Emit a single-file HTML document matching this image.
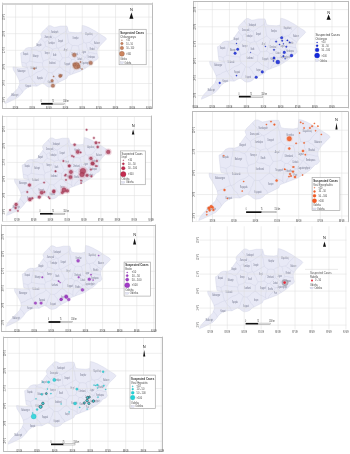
<!DOCTYPE html><html><head><meta charset="utf-8"><title>Odisha suspected cases maps</title><style>html,body{margin:0;padding:0;background:#fff;width:350px;height:454px;overflow:hidden}
svg{display:block;filter:blur(0.3px)}
text{font-family:'Liberation Sans',sans-serif}
.g{stroke:#dcdcdc;stroke-width:0.5;fill:none}
.m{fill:#e8e9f6;stroke:#c8cbe0;stroke-width:0.35}
.d{fill:none;stroke:#c9cce0;stroke-width:0.35}
.t{fill:#70748a}
.a{fill:#3a3a3a}
.n{font-size:4px;fill:#222}
.s{fill:#333}
.lt{fill:#303030;font-weight:bold}
.ltr{fill:#3a3a3a}
.lt6{fill:#555}
.ls{fill:#474747}</style></head><body>
<svg width="350" height="454" viewBox="0 0 350 454">
<g id="p1">
<path d="M41.76,37.35 L40.76,34.53 L41.92,32.37 L44.09,30.21 L46.42,27.89 L48.59,25.73 L50.75,25.73 L54.08,27.39 L56.25,27.06 L60.75,26.06 L66.91,26.06 L68.58,31.71 L71.41,32.37 L78.08,32.7 L81.74,32.04 L82.24,25.4 L84.74,25.9 L88.9,27.56 L95.57,31.21 L101.4,35.03 L105.23,37.35 L106.56,39.01 L103.9,41.83 L102.07,43.66 L100.23,45.49 L98.4,47.98 L97.23,50.3 L97.23,53.45 L97.73,55.78 L98.4,57.77 L96.57,60.09 L95.07,60.26 L93.4,62.09 L90.74,64.74 L88.07,66.57 L84.57,68.73 L81.07,70.88 L77.58,72.21 L73.91,73.54 L70.41,74.87 L67.75,75.86 L66.75,78.35 L63.41,80.01 L60.08,81.67 L56.75,83.33 L54.58,85.49 L52.25,86.65 L48.92,87.15 L46.75,86.16 L44.59,84.33 L42.42,83.33 L40.26,84.33 L36.92,86.16 L32.76,85.99 L28.26,87.15 L24.93,89.48 L23.1,91.63 L21.43,93.96 L17.93,97.44 L13.43,99.77 L8.94,101.93 L4.94,103.59 L5.44,101.93 L7.77,98.61 L11.27,95.12 L14.6,91.63 L17.93,88.31 L19.77,83.67 L19.1,80.35 L16.93,75.7 L13.43,70.05 L12.93,67.73 L13.1,66.9 L19.93,68.06 L27.6,67.73 L22.26,66.4 L21.93,65.24 L21.6,62.42 L21.26,59.93 L20.93,56.28 L20.6,52.96 L21.93,52.46 L24.1,50.63 L25.76,48.47 L28.43,47.48 L32.93,47.48 L36.09,46.32 L37.26,43.66 L39.09,41Z" class="m"/>
<path d="M97.31,53.81 L95.15,53.71 L93.04,53.11 L90.92,52.65 L88.72,52.86 M98.07,48.64 L96.35,47.37 L94.37,46.44 L93.14,44.51 L90.94,43.88 L89.5,42.24 M88.72,52.86 L88.36,50.83 L87.73,48.88 L86.65,47.07 L86.75,44.91 L85.77,43.06 M89.5,42.24 L85.77,43.06 M92.54,62.95 L90.57,61.85 L89.17,60.08 L87.18,59 L85.81,57.2 M85.81,57.2 L87.01,54.86 L88.72,52.86 M98.58,33.18 L97.1,34.72 L95.44,36.09 L93.95,37.62 L92.44,39.13 L91.36,41.07 L89.5,42.24 M18.64,86.51 L20.07,88.37 L21.63,90.14 L22.63,92.29 M85.35,68.25 L84.11,66.58 L82.25,65.46 L81.25,63.58 M85.81,57.2 L85.16,57.36 M81.25,63.58 L82.17,61.26 L84.1,59.58 L85.16,57.36 M46.56,27.75 L47.49,29.6 L49.01,31 L50.32,32.57 L51.09,34.54 L52.41,36.1 L53.92,37.52 M41.01,38.37 L42.74,40.56 L44.84,42.41 M44.84,42.41 L46.48,41.11 L48.3,40.14 L50.14,39.2 L52.21,38.7 L53.92,37.52 M72.48,45.59 L75.29,45.41 L78.06,45.89 M72.48,45.59 L70.51,44.27 L68.78,42.64 M68.78,42.64 L68.2,40.37 L67.82,38.05 L67.64,35.69 L66.88,33.46 L66.23,31.2 M83.83,42.51 L82.08,43.93 L79.81,44.47 L78.06,45.89 M83.83,42.51 L83.4,40.41 L82.57,38.41 L82.48,36.23 L82.15,34.11 L81.22,32.13 M67.33,27.48 L66.23,31.2 M85.77,43.06 L83.83,42.51 M85.16,57.36 L83.13,56.42 L81.34,55.1 L79.52,53.84 M79.52,53.84 L79.29,51.83 L79.09,49.81 L78.83,47.8 L78.06,45.89 M53.92,37.52 L55.25,37.91 M55.25,37.91 L57.17,36.94 L58.96,35.76 L60.7,34.49 L62.57,33.43 L64.36,32.27 L66.23,31.2 M71.6,59.43 L71.03,61.41 L70.65,63.41 L70.64,65.45 L70.57,67.48 L69.98,69.46 L69.94,71.5 L70.02,73.55 M71.6,59.43 L73.91,59.43 M73.91,59.43 L75.88,60.66 L77.5,62.35 L79.46,63.58 M79.46,63.58 L78.58,65.53 L77.44,67.3 L76.16,68.99 L74.38,70.34 L73.22,72.1 L72.42,74.11 M70.84,74.71 L70.02,73.55 M79.52,53.84 L77.46,55.52 L75.73,57.52 L73.91,59.43 M68.27,57.14 L70.16,57.95 L71.6,59.43 M68.27,57.14 L69.29,55.33 L69.61,53.27 L70.49,51.41 L71.25,49.5 L71.61,47.45 L72.48,45.59 M81.25,63.58 L79.46,63.58 M58.29,82.57 L57.39,80.33 L55.35,78.84 L54.56,76.53 L52.9,74.79 L51.71,72.74 M70.02,73.55 L68.37,72.34 L66.56,71.38 L64.57,70.72 L62.82,69.66 L61.53,67.87 L59.57,67.14 M51.71,72.74 L53.86,71.6 L55.7,70.02 L57.38,68.22 L59.57,67.14 M21.58,62.27 L23.87,62.63 L26.07,63.39 M19.22,80.97 L21.3,80.07 L23.46,79.37 L25.33,78.03 L27.43,77.19 L29.55,76.4 M29.55,76.4 L28.97,74.24 L28.36,72.08 L28.17,69.82 L27.24,67.75 M27.21,67.63 L26.42,65.57 L26.07,63.39 M62.49,57.81 L61.56,59.85 L59.9,61.34 M62.49,57.81 L61.37,56.05 L60.81,54.03 L59.56,52.33 L58.83,50.38 L58.14,48.42 M59.9,61.34 L57.79,60.87 L55.9,59.67 L53.85,59.04 L51.55,59.2 L49.59,58.26 M49.59,58.26 L50.71,56.11 L51.34,53.79 L51.96,51.48 L52.63,49.18 M52.63,49.18 L54.84,48.51 L57.09,47.99 M58.14,48.42 L57.09,47.99 M68.27,57.14 L65.41,57.71 L62.49,57.81 M59.57,67.14 L59.85,64.25 L59.9,61.34 M68.78,42.64 L66.94,43.48 L65.28,44.65 L63.41,45.44 L61.75,46.6 L59.99,47.59 L58.14,48.42 M45.61,46.26 L48.06,46.97 L50.42,47.9 L52.63,49.18 M44.84,42.41 L45.61,46.26 M55.25,37.91 L55.74,39.91 L56.06,41.93 L56.38,43.96 L56.24,46.06 L57.09,47.99 M48.01,72.4 L46.22,70.17 L43.78,68.68 M48.01,72.4 L47.02,74.21 L46.56,76.23 L45.41,77.99 L45.13,80.07 L43.94,81.81 L43.59,83.87 M43.78,68.68 L42,70.09 L40.08,71.26 L37.8,71.83 L35.86,72.97 L34.05,74.32 L32.24,75.68 L30.16,76.59 M36.99,86.12 L35.44,84.34 L34.65,82.03 L32.5,80.68 L31.35,78.63 L30.16,76.59 M51.71,72.74 L48.01,72.4 M29.55,76.4 L30.16,76.59 M43.34,61.13 L42.58,58.81 L41.68,56.53 L41.69,54 L40.65,51.75 M43.34,61.13 L42.49,63.02 M42.49,63.02 L40.36,62.59 L38.16,62.68 L36.02,62.27 L33.87,62 L31.76,61.43 L29.61,61.19 M29.61,61.19 L29.84,59.14 L30.04,57.08 L30.35,55.04 L31.17,53.09 L31.11,50.99 L31.65,48.99 M31.65,48.99 L33.91,49.63 L36.29,49.91 L38.31,51.35 L40.65,51.75 M49.59,58.26 L47.69,59.62 L45.43,60.2 L43.34,61.13 M45.61,46.26 L43.62,47.79 L42.32,49.94 L40.65,51.75 M43.78,68.68 L42.72,65.94 L42.49,63.02 M26.07,63.39 L27.88,62.36 L29.61,61.19 M30.6,47.48 L31.65,48.99" class="d"/>
<text x="54.75" y="32.61" class="t" text-anchor="middle" style="font-size:2.75px" textLength="7.16" lengthAdjust="spacingAndGlyphs">Sundargarh</text>
<text x="48.09" y="37.59" class="t" text-anchor="middle" style="font-size:2.75px" textLength="7.16" lengthAdjust="spacingAndGlyphs">Jharsuguda</text>
<text x="51.42" y="43.73" class="t" text-anchor="middle" style="font-size:2.75px" textLength="6.45" lengthAdjust="spacingAndGlyphs">Sambalpur</text>
<text x="60.58" y="42.07" class="t" text-anchor="middle" style="font-size:2.75px" textLength="5.01" lengthAdjust="spacingAndGlyphs">Deogarh</text>
<text x="75.58" y="38.75" class="t" text-anchor="middle" style="font-size:2.75px" textLength="5.73" lengthAdjust="spacingAndGlyphs">Keonjhar</text>
<text x="88.9" y="35.43" class="t" text-anchor="middle" style="font-size:2.75px" textLength="7.16" lengthAdjust="spacingAndGlyphs">Mayurbhanj</text>
<text x="97.23" y="43.73" class="t" text-anchor="middle" style="font-size:2.75px" textLength="5.73" lengthAdjust="spacingAndGlyphs">Balasore</text>
<text x="92.24" y="50.37" class="t" text-anchor="middle" style="font-size:2.75px" textLength="5.01" lengthAdjust="spacingAndGlyphs">Bhadrak</text>
<text x="83.91" y="52.86" class="t" text-anchor="middle" style="font-size:2.75px" textLength="4.3" lengthAdjust="spacingAndGlyphs">Jajpur</text>
<text x="91.4" y="57.84" class="t" text-anchor="middle" style="font-size:2.75px" textLength="7.16" lengthAdjust="spacingAndGlyphs">Kendrapara</text>
<text x="86.41" y="63.65" class="t" text-anchor="middle" style="font-size:2.75px" textLength="9.31" lengthAdjust="spacingAndGlyphs">Jagatsinghpur</text>
<text x="79.74" y="59.5" class="t" text-anchor="middle" style="font-size:2.75px" textLength="5.01" lengthAdjust="spacingAndGlyphs">Cuttack</text>
<text x="74.74" y="54.52" class="t" text-anchor="middle" style="font-size:2.75px" textLength="6.45" lengthAdjust="spacingAndGlyphs">Dhenkanal</text>
<text x="65.58" y="51.2" class="t" text-anchor="middle" style="font-size:2.75px" textLength="3.58" lengthAdjust="spacingAndGlyphs">Angul</text>
<text x="74.74" y="66.14" class="t" text-anchor="middle" style="font-size:2.75px" textLength="5.01" lengthAdjust="spacingAndGlyphs">Khordha</text>
<text x="79.74" y="69.46" class="t" text-anchor="middle" style="font-size:2.75px" textLength="2.87" lengthAdjust="spacingAndGlyphs">Puri</text>
<text x="67.25" y="65.31" class="t" text-anchor="middle" style="font-size:2.75px" textLength="5.73" lengthAdjust="spacingAndGlyphs">Nayagarh</text>
<text x="60.58" y="76.1" class="t" text-anchor="middle" style="font-size:2.75px" textLength="4.3" lengthAdjust="spacingAndGlyphs">Ganjam</text>
<text x="50.59" y="82.74" class="t" text-anchor="middle" style="font-size:2.75px" textLength="5.73" lengthAdjust="spacingAndGlyphs">Gajapati</text>
<text x="52.25" y="64.48" class="t" text-anchor="middle" style="font-size:2.75px" textLength="6.45" lengthAdjust="spacingAndGlyphs">Kandhamal</text>
<text x="54.75" y="56.18" class="t" text-anchor="middle" style="font-size:2.75px" textLength="3.58" lengthAdjust="spacingAndGlyphs">Boudh</text>
<text x="47.25" y="53.69" class="t" text-anchor="middle" style="font-size:2.75px" textLength="5.01" lengthAdjust="spacingAndGlyphs">Sonepur</text>
<text x="38.92" y="46.22" class="t" text-anchor="middle" style="font-size:2.75px" textLength="5.01" lengthAdjust="spacingAndGlyphs">Bargarh</text>
<text x="35.59" y="57.01" class="t" text-anchor="middle" style="font-size:2.75px" textLength="5.73" lengthAdjust="spacingAndGlyphs">Bolangir</text>
<text x="25.6" y="55.35" class="t" text-anchor="middle" style="font-size:2.75px" textLength="5.01" lengthAdjust="spacingAndGlyphs">Nuapada</text>
<text x="33.93" y="68.63" class="t" text-anchor="middle" style="font-size:2.75px" textLength="6.45" lengthAdjust="spacingAndGlyphs">Kalahandi</text>
<text x="39.76" y="78.59" class="t" text-anchor="middle" style="font-size:2.75px" textLength="5.73" lengthAdjust="spacingAndGlyphs">Rayagada</text>
<text x="21.43" y="71.95" class="t" text-anchor="middle" style="font-size:2.75px" textLength="7.88" lengthAdjust="spacingAndGlyphs">Nabarangpur</text>
<text x="28.09" y="86.89" class="t" text-anchor="middle" style="font-size:2.75px" textLength="5.01" lengthAdjust="spacingAndGlyphs">Koraput</text>
<text x="14.77" y="96.02" class="t" text-anchor="middle" style="font-size:2.75px" textLength="7.16" lengthAdjust="spacingAndGlyphs">Malkangiri</text>
<line x1="15.6" y1="3.2" x2="15.6" y2="108.3" class="g"/>
<line x1="32.26" y1="3.2" x2="32.26" y2="108.3" class="g"/>
<line x1="48.92" y1="3.2" x2="48.92" y2="108.3" class="g"/>
<line x1="65.58" y1="3.2" x2="65.58" y2="108.3" class="g"/>
<line x1="82.24" y1="3.2" x2="82.24" y2="108.3" class="g"/>
<line x1="98.9" y1="3.2" x2="98.9" y2="108.3" class="g"/>
<line x1="115.56" y1="3.2" x2="115.56" y2="108.3" class="g"/>
<line x1="132.22" y1="3.2" x2="132.22" y2="108.3" class="g"/>
<line x1="148.88" y1="3.2" x2="148.88" y2="108.3" class="g"/>
<line x1="6.2" y1="100.1" x2="152.5" y2="100.1" class="g"/>
<line x1="6.2" y1="83.5" x2="152.5" y2="83.5" class="g"/>
<line x1="6.2" y1="66.9" x2="152.5" y2="66.9" class="g"/>
<line x1="6.2" y1="50.3" x2="152.5" y2="50.3" class="g"/>
<line x1="6.2" y1="33.7" x2="152.5" y2="33.7" class="g"/>
<line x1="6.2" y1="17.1" x2="152.5" y2="17.1" class="g"/>
<circle cx="74.3" cy="55" r="2.78" fill="#d9b9b0" opacity="0.55"/>
<circle cx="76.4" cy="65.7" r="4.54" fill="#d9b9b0" opacity="0.55"/>
<circle cx="74.6" cy="64.5" r="2.51" fill="#d9b9b0" opacity="0.55"/>
<circle cx="78.5" cy="66.5" r="2.38" fill="#d9b9b0" opacity="0.55"/>
<circle cx="90.7" cy="62.9" r="2.65" fill="#d9b9b0" opacity="0.55"/>
<circle cx="60.7" cy="75.7" r="2.1" fill="#d9b9b0" opacity="0.55"/>
<circle cx="34.3" cy="68.6" r="1.43" fill="#d9b9b0" opacity="0.55"/>
<circle cx="60" cy="76.1" r="2.1" fill="#d9b9b0" opacity="0.55"/>
<circle cx="52.1" cy="80.7" r="1.97" fill="#d9b9b0" opacity="0.55"/>
<circle cx="52.9" cy="85.7" r="2.51" fill="#d9b9b0" opacity="0.55"/>
<circle cx="53.6" cy="76.4" r="1.02" fill="#d9b9b0" opacity="0.55"/>
<circle cx="80.5" cy="62" r="1.16" fill="#d9b9b0" opacity="0.55"/>
<circle cx="82" cy="69" r="1.02" fill="#d9b9b0" opacity="0.55"/>
<circle cx="76.4" cy="65.7" r="3.1" fill="#b87658" fill-opacity="0.85" stroke="#80503c" stroke-width="0.3"/>
<circle cx="74.3" cy="55" r="1.8" fill="#b87658" fill-opacity="0.85" stroke="#80503c" stroke-width="0.3"/>
<circle cx="90.7" cy="62.9" r="1.7" fill="#b87658" fill-opacity="0.85" stroke="#80503c" stroke-width="0.3"/>
<circle cx="74.6" cy="64.5" r="1.6" fill="#b87658" fill-opacity="0.85" stroke="#80503c" stroke-width="0.3"/>
<circle cx="52.9" cy="85.7" r="1.6" fill="#b87658" fill-opacity="0.85" stroke="#80503c" stroke-width="0.3"/>
<circle cx="78.5" cy="66.5" r="1.5" fill="#b87658" fill-opacity="0.85" stroke="#80503c" stroke-width="0.3"/>
<circle cx="60.7" cy="75.7" r="1.3" fill="#b87658" fill-opacity="0.85" stroke="#80503c" stroke-width="0.3"/>
<circle cx="60" cy="76.1" r="1.3" fill="#b87658" fill-opacity="0.85" stroke="#80503c" stroke-width="0.3"/>
<circle cx="52.1" cy="80.7" r="1.2" fill="#b87658" fill-opacity="0.85" stroke="#80503c" stroke-width="0.3"/>
<circle cx="34.3" cy="68.6" r="0.8" fill="#b87658" fill-opacity="0.85" stroke="#80503c" stroke-width="0.3"/>
<circle cx="80.5" cy="62" r="0.6" fill="#b87658" fill-opacity="0.85" stroke="#80503c" stroke-width="0.3"/>
<circle cx="53.6" cy="76.4" r="0.5" fill="#b87658" fill-opacity="0.85" stroke="#80503c" stroke-width="0.3"/>
<circle cx="82" cy="69" r="0.5" fill="#b87658" fill-opacity="0.85" stroke="#80503c" stroke-width="0.3"/>
<line x1="6.2" y1="3.2" x2="6.2" y2="108.3" stroke="#ececec" stroke-width="0.6"/>
<line x1="2" y1="108.5" x2="152.5" y2="108.5" stroke="#bababa" stroke-width="1"/>
<line x1="2.5" y1="2.7" x2="2.5" y2="108.8" stroke="#bababa" stroke-width="1"/>
<line x1="152.5" y1="2.7" x2="152.5" y2="108.8" stroke="#bababa" stroke-width="1"/>
<rect x="2" y="3.1" width="150.5" height="1.8" fill="#d0d0d0"/>
<text x="15.6" y="108.6" class="a" text-anchor="middle" style="font-size:2.75px" textLength="5.6" lengthAdjust="spacingAndGlyphs">82°0'E</text>
<text x="32.26" y="108.6" class="a" text-anchor="middle" style="font-size:2.75px" textLength="5.6" lengthAdjust="spacingAndGlyphs">83°0'E</text>
<text x="48.92" y="108.6" class="a" text-anchor="middle" style="font-size:2.75px" textLength="5.6" lengthAdjust="spacingAndGlyphs">84°0'E</text>
<text x="65.58" y="108.6" class="a" text-anchor="middle" style="font-size:2.75px" textLength="5.6" lengthAdjust="spacingAndGlyphs">85°0'E</text>
<text x="82.24" y="108.6" class="a" text-anchor="middle" style="font-size:2.75px" textLength="5.6" lengthAdjust="spacingAndGlyphs">86°0'E</text>
<text x="98.9" y="108.6" class="a" text-anchor="middle" style="font-size:2.75px" textLength="5.6" lengthAdjust="spacingAndGlyphs">87°0'E</text>
<text x="115.56" y="108.6" class="a" text-anchor="middle" style="font-size:2.75px" textLength="5.6" lengthAdjust="spacingAndGlyphs">88°0'E</text>
<text x="132.22" y="108.6" class="a" text-anchor="middle" style="font-size:2.75px" textLength="5.6" lengthAdjust="spacingAndGlyphs">89°0'E</text>
<text x="148.88" y="108.6" class="a" text-anchor="middle" style="font-size:2.75px" textLength="5.6" lengthAdjust="spacingAndGlyphs">90°0'E</text>
<text x="3.8" y="100.1" class="a" text-anchor="middle" style="font-size:2.75px" textLength="5.4" lengthAdjust="spacingAndGlyphs" dy="0.95" transform="rotate(-90 3.8 100.1)">18°0'N</text>
<text x="3.8" y="83.5" class="a" text-anchor="middle" style="font-size:2.75px" textLength="5.4" lengthAdjust="spacingAndGlyphs" dy="0.95" transform="rotate(-90 3.8 83.5)">19°0'N</text>
<text x="3.8" y="66.9" class="a" text-anchor="middle" style="font-size:2.75px" textLength="5.4" lengthAdjust="spacingAndGlyphs" dy="0.95" transform="rotate(-90 3.8 66.9)">20°0'N</text>
<text x="3.8" y="50.3" class="a" text-anchor="middle" style="font-size:2.75px" textLength="5.4" lengthAdjust="spacingAndGlyphs" dy="0.95" transform="rotate(-90 3.8 50.3)">21°0'N</text>
<text x="3.8" y="33.7" class="a" text-anchor="middle" style="font-size:2.75px" textLength="5.4" lengthAdjust="spacingAndGlyphs" dy="0.95" transform="rotate(-90 3.8 33.7)">22°0'N</text>
<text x="3.8" y="17.1" class="a" text-anchor="middle" style="font-size:2.75px" textLength="5.4" lengthAdjust="spacingAndGlyphs" dy="0.95" transform="rotate(-90 3.8 17.1)">23°0'N</text>
<text x="131.4" y="10.7" class="n" text-anchor="middle">N</text>
<path d="M131.4,12.4 L129.4,18.8 L133.4,18.8Z" fill="#111"/>
<rect x="41.1" y="102.9" width="11.8" height="1.8" fill="#111"/>
<rect x="52.9" y="103.1" width="11.8" height="1.4" fill="#fff" stroke="#777" stroke-width="0.4"/>
<text x="41.1" y="102.2" class="s" text-anchor="middle" style="font-size:2.75px" textLength="0.9" lengthAdjust="spacingAndGlyphs">0</text>
<text x="52.9" y="102.2" class="s" text-anchor="middle" style="font-size:2.75px" textLength="1.9" lengthAdjust="spacingAndGlyphs">75</text>
<text x="63.2" y="102.2" class="s" style="font-size:2.75px" textLength="5.6" lengthAdjust="spacingAndGlyphs">150 km</text>
<rect x="119.1" y="29.3" width="27.1" height="35.4" fill="#fff" stroke="#a8a8a8" stroke-width="0.7"/>
<text x="120.2" y="33.9" class="lt" style="font-size:3px" textLength="24" lengthAdjust="spacingAndGlyphs">Suspected Cases</text>
<text x="120.2" y="37.75" class="ls" style="font-size:2.75px" textLength="15.8" lengthAdjust="spacingAndGlyphs">Chikungunya</text>
<circle cx="121.9" cy="40.2" r="0.45" fill="#cc845e" stroke="#80503c" stroke-width="0.3"/>
<text x="126.2" y="41.1" class="ls" style="font-size:2.75px" textLength="3.65" lengthAdjust="spacingAndGlyphs">&lt;10</text>
<circle cx="121.9" cy="43.6" r="1.25" fill="#cc845e" stroke="#80503c" stroke-width="0.3"/>
<text x="126.2" y="44.5" class="ls" style="font-size:2.75px" textLength="6.69" lengthAdjust="spacingAndGlyphs">10 - 50</text>
<circle cx="121.9" cy="48" r="1.75" fill="#cc845e" stroke="#80503c" stroke-width="0.3"/>
<text x="126.2" y="48.9" class="ls" style="font-size:2.75px" textLength="7.89" lengthAdjust="spacingAndGlyphs">50 - 100</text>
<circle cx="121.9" cy="53.8" r="2.5" fill="#cc845e" stroke="#80503c" stroke-width="0.3"/>
<text x="126.2" y="54.7" class="ls" style="font-size:2.75px" textLength="4.84" lengthAdjust="spacingAndGlyphs">&gt;100</text>
<text x="120.2" y="60.45" class="ls" style="font-size:2.75px" textLength="6.81" lengthAdjust="spacingAndGlyphs">Odisha</text>
<rect x="120.3" y="61.8" width="3.2" height="1.8" fill="#e1e3f4" stroke="#aab" stroke-width="0.2"/>
<text x="124.5" y="63.6" class="ls" style="font-size:2.75px" textLength="6.81" lengthAdjust="spacingAndGlyphs">Odisha</text>
</g>
<g id="p2">
<path d="M239.15,30.58 L238.12,27.66 L239.32,25.42 L241.54,23.19 L243.93,20.78 L246.16,18.54 L248.38,18.54 L251.8,20.26 L254.02,19.92 L258.64,18.89 L264.97,18.89 L266.68,24.74 L269.58,25.42 L276.43,25.77 L280.19,25.08 L280.7,18.2 L283.27,18.72 L287.54,20.44 L294.38,24.22 L300.37,28.18 L304.3,30.58 L305.67,32.3 L302.93,35.23 L301.05,37.12 L299.17,39.01 L297.29,41.59 L296.09,44 L296.09,47.27 L296.6,49.68 L297.29,51.74 L295.41,54.15 L293.87,54.32 L292.16,56.21 L289.42,58.96 L286.68,60.86 L283.09,63.09 L279.5,65.33 L275.91,66.7 L272.15,68.08 L268.56,69.46 L265.82,70.49 L264.8,73.07 L261.38,74.79 L257.96,76.51 L254.54,78.23 L252.31,80.46 L249.92,81.67 L246.5,82.18 L244.28,81.15 L242.05,79.26 L239.83,78.23 L237.61,79.26 L234.19,81.15 L229.91,80.98 L225.3,82.18 L221.88,84.59 L220,86.83 L218.28,89.24 L214.69,92.85 L210.08,95.26 L205.46,97.49 L201.36,99.21 L201.87,97.49 L204.26,94.05 L207.85,90.44 L211.27,86.83 L214.69,83.39 L216.58,78.57 L215.89,75.13 L213.67,70.32 L210.08,64.47 L209.56,62.06 L209.73,61.2 L216.75,62.4 L224.61,62.06 L219.14,60.68 L218.8,59.48 L218.46,56.56 L218.11,53.98 L217.77,50.19 L217.43,46.75 L218.8,46.24 L221.02,44.34 L222.73,42.11 L225.47,41.08 L230.08,41.08 L233.33,39.87 L234.53,37.12 L236.41,34.37Z" class="m"/>
<path d="M296.17,47.64 L293.95,47.53 L291.78,46.91 L289.61,46.43 L287.35,46.65 M296.95,42.28 L295.18,40.96 L293.15,40 L291.89,38.01 L289.63,37.34 L288.15,35.65 M287.35,46.65 L286.98,44.55 L286.34,42.53 L285.22,40.66 L285.33,38.41 L284.32,36.5 M288.15,35.65 L284.32,36.5 M291.27,57.11 L289.25,55.96 L287.81,54.14 L285.77,53.01 L284.37,51.15 M284.37,51.15 L285.6,48.73 L287.35,46.65 M297.48,26.27 L295.95,27.86 L294.25,29.28 L292.72,30.86 L291.17,32.43 L290.06,34.44 L288.15,35.65 M215.42,81.52 L216.89,83.44 L218.49,85.28 L219.51,87.51 M283.89,62.6 L282.62,60.87 L280.71,59.7 L279.68,57.76 M284.37,51.15 L283.69,51.31 M279.68,57.76 L280.62,55.36 L282.61,53.62 L283.69,51.31 M244.08,20.63 L245.03,22.55 L246.6,24.01 L247.94,25.63 L248.73,27.67 L250.08,29.29 L251.63,30.75 M238.38,31.64 L240.16,33.91 L242.31,35.82 M242.31,35.82 L243.99,34.48 L245.86,33.47 L247.75,32.5 L249.88,31.98 L251.63,30.75 M270.69,39.12 L273.57,38.94 L276.41,39.43 M270.69,39.12 L268.66,37.75 L266.88,36.06 M266.88,36.06 L266.29,33.71 L265.9,31.31 L265.72,28.86 L264.94,26.55 L264.26,24.21 M282.33,35.93 L280.54,37.4 L278.21,37.96 L276.41,39.43 M282.33,35.93 L281.89,33.75 L281.04,31.68 L280.94,29.42 L280.61,27.22 L279.66,25.18 M265.4,20.36 L264.26,24.21 M284.32,36.5 L282.33,35.93 M283.69,51.31 L281.61,50.34 L279.78,48.98 L277.9,47.67 M277.9,47.67 L277.67,45.59 L277.46,43.49 L277.2,41.41 L276.41,39.43 M251.63,30.75 L253,31.17 M253,31.17 L254.97,30.16 L256.81,28.93 L258.59,27.62 L260.51,26.52 L262.35,25.31 L264.26,24.21 M269.77,53.46 L269.2,55.51 L268.8,57.58 L268.79,59.7 L268.72,61.81 L268.11,63.85 L268.08,65.97 L268.16,68.09 M269.77,53.46 L272.15,53.46 M272.15,53.46 L274.17,54.73 L275.84,56.48 L277.85,57.76 M277.85,57.76 L276.95,59.78 L275.77,61.62 L274.46,63.36 L272.63,64.76 L271.44,66.59 L270.62,68.67 M269,69.29 L268.16,68.09 M277.9,47.67 L275.79,49.41 L274.02,51.48 L272.15,53.46 M266.36,51.08 L268.3,51.93 L269.77,53.46 M266.36,51.08 L267.41,49.21 L267.73,47.07 L268.64,45.15 L269.42,43.17 L269.79,41.05 L270.69,39.12 M279.68,57.76 L277.85,57.76 M256.12,77.43 L255.19,75.11 L253.1,73.57 L252.29,71.17 L250.59,69.37 L249.37,67.25 M268.16,68.09 L266.46,66.84 L264.61,65.84 L262.56,65.15 L260.77,64.06 L259.44,62.2 L257.43,61.45 M249.37,67.25 L251.58,66.07 L253.46,64.44 L255.18,62.57 L257.43,61.45 M218.44,56.4 L220.79,56.78 L223.05,57.56 M216.02,75.78 L218.15,74.85 L220.37,74.12 L222.29,72.73 L224.45,71.86 L226.62,71.04 M226.62,71.04 L226.03,68.8 L225.4,66.57 L225.2,64.22 L224.25,62.08 M224.22,61.96 L223.4,59.82 L223.05,57.56 M260.43,51.79 L259.47,53.89 L257.77,55.44 M260.43,51.79 L259.28,49.96 L258.7,47.87 L257.42,46.1 L256.67,44.08 L255.96,42.05 M257.77,55.44 L255.61,54.95 L253.67,53.71 L251.56,53.05 L249.2,53.22 L247.19,52.25 M247.19,52.25 L248.33,50.02 L248.98,47.62 L249.62,45.22 L250.31,42.84 M250.31,42.84 L252.58,42.15 L254.89,41.61 M255.96,42.05 L254.89,41.61 M266.36,51.08 L263.43,51.68 L260.43,51.79 M257.43,61.45 L257.72,58.45 L257.77,55.44 M266.88,36.06 L264.99,36.94 L263.29,38.14 L261.37,38.96 L259.66,40.17 L257.86,41.19 L255.96,42.05 M243.1,39.82 L245.62,40.55 L248.04,41.51 L250.31,42.84 M242.31,35.82 L243.1,39.82 M253,31.17 L253.5,33.23 L253.83,35.33 L254.15,37.43 L254.01,39.61 L254.89,41.61 M245.57,66.9 L243.73,64.59 L241.22,63.04 M245.57,66.9 L244.55,68.78 L244.07,70.87 L242.9,72.69 L242.61,74.85 L241.39,76.65 L241.03,78.78 M241.22,63.04 L239.4,64.51 L237.42,65.72 L235.09,66.31 L233.1,67.49 L231.24,68.89 L229.38,70.3 L227.25,71.24 M234.26,81.11 L232.67,79.27 L231.86,76.87 L229.65,75.48 L228.46,73.35 L227.25,71.24 M249.37,67.25 L245.57,66.9 M226.62,71.04 L227.25,71.24 M240.77,55.23 L240,52.82 L239.07,50.46 L239.08,47.83 L238.01,45.51 M240.77,55.23 L239.9,57.18 M239.9,57.18 L237.71,56.73 L235.45,56.82 L233.26,56.4 L231.05,56.13 L228.89,55.53 L226.68,55.28 M226.68,55.28 L226.91,53.16 L227.12,51.03 L227.44,48.92 L228.29,46.89 L228.22,44.72 L228.77,42.65 M228.77,42.65 L231.1,43.3 L233.54,43.59 L235.61,45.09 L238.01,45.51 M247.19,52.25 L245.24,53.66 L242.92,54.26 L240.77,55.23 M243.1,39.82 L241.06,41.4 L239.72,43.62 L238.01,45.51 M241.22,63.04 L240.14,60.21 L239.9,57.18 M223.05,57.56 L224.91,56.5 L226.68,55.28 M227.7,41.08 L228.77,42.65" class="d"/>
<text x="252.48" y="25.64" class="t" text-anchor="middle" style="font-size:2.75px" textLength="7.35" lengthAdjust="spacingAndGlyphs">Sundargarh</text>
<text x="245.65" y="30.8" class="t" text-anchor="middle" style="font-size:2.75px" textLength="7.35" lengthAdjust="spacingAndGlyphs">Jharsuguda</text>
<text x="249.07" y="37.16" class="t" text-anchor="middle" style="font-size:2.75px" textLength="6.62" lengthAdjust="spacingAndGlyphs">Sambalpur</text>
<text x="258.47" y="35.44" class="t" text-anchor="middle" style="font-size:2.75px" textLength="5.15" lengthAdjust="spacingAndGlyphs">Deogarh</text>
<text x="273.86" y="32" class="t" text-anchor="middle" style="font-size:2.75px" textLength="5.88" lengthAdjust="spacingAndGlyphs">Keonjhar</text>
<text x="287.54" y="28.56" class="t" text-anchor="middle" style="font-size:2.75px" textLength="7.35" lengthAdjust="spacingAndGlyphs">Mayurbhanj</text>
<text x="296.09" y="37.16" class="t" text-anchor="middle" style="font-size:2.75px" textLength="5.88" lengthAdjust="spacingAndGlyphs">Balasore</text>
<text x="290.96" y="44.04" class="t" text-anchor="middle" style="font-size:2.75px" textLength="5.15" lengthAdjust="spacingAndGlyphs">Bhadrak</text>
<text x="282.41" y="46.62" class="t" text-anchor="middle" style="font-size:2.75px" textLength="4.41" lengthAdjust="spacingAndGlyphs">Jajpur</text>
<text x="290.1" y="51.78" class="t" text-anchor="middle" style="font-size:2.75px" textLength="7.35" lengthAdjust="spacingAndGlyphs">Kendrapara</text>
<text x="284.98" y="57.8" class="t" text-anchor="middle" style="font-size:2.75px" textLength="9.56" lengthAdjust="spacingAndGlyphs">Jagatsinghpur</text>
<text x="278.13" y="53.5" class="t" text-anchor="middle" style="font-size:2.75px" textLength="5.15" lengthAdjust="spacingAndGlyphs">Cuttack</text>
<text x="273" y="48.34" class="t" text-anchor="middle" style="font-size:2.75px" textLength="6.62" lengthAdjust="spacingAndGlyphs">Dhenkanal</text>
<text x="263.6" y="44.9" class="t" text-anchor="middle" style="font-size:2.75px" textLength="3.68" lengthAdjust="spacingAndGlyphs">Angul</text>
<text x="273" y="60.38" class="t" text-anchor="middle" style="font-size:2.75px" textLength="5.15" lengthAdjust="spacingAndGlyphs">Khordha</text>
<text x="278.13" y="63.82" class="t" text-anchor="middle" style="font-size:2.75px" textLength="2.94" lengthAdjust="spacingAndGlyphs">Puri</text>
<text x="265.31" y="59.52" class="t" text-anchor="middle" style="font-size:2.75px" textLength="5.88" lengthAdjust="spacingAndGlyphs">Nayagarh</text>
<text x="258.47" y="70.7" class="t" text-anchor="middle" style="font-size:2.75px" textLength="4.41" lengthAdjust="spacingAndGlyphs">Ganjam</text>
<text x="248.21" y="77.58" class="t" text-anchor="middle" style="font-size:2.75px" textLength="5.88" lengthAdjust="spacingAndGlyphs">Gajapati</text>
<text x="249.92" y="58.66" class="t" text-anchor="middle" style="font-size:2.75px" textLength="6.62" lengthAdjust="spacingAndGlyphs">Kandhamal</text>
<text x="252.48" y="50.06" class="t" text-anchor="middle" style="font-size:2.75px" textLength="3.68" lengthAdjust="spacingAndGlyphs">Boudh</text>
<text x="244.79" y="47.48" class="t" text-anchor="middle" style="font-size:2.75px" textLength="5.15" lengthAdjust="spacingAndGlyphs">Sonepur</text>
<text x="236.24" y="39.74" class="t" text-anchor="middle" style="font-size:2.75px" textLength="5.15" lengthAdjust="spacingAndGlyphs">Bargarh</text>
<text x="232.82" y="50.92" class="t" text-anchor="middle" style="font-size:2.75px" textLength="5.88" lengthAdjust="spacingAndGlyphs">Bolangir</text>
<text x="222.56" y="49.2" class="t" text-anchor="middle" style="font-size:2.75px" textLength="5.15" lengthAdjust="spacingAndGlyphs">Nuapada</text>
<text x="231.11" y="62.96" class="t" text-anchor="middle" style="font-size:2.75px" textLength="6.62" lengthAdjust="spacingAndGlyphs">Kalahandi</text>
<text x="237.1" y="73.28" class="t" text-anchor="middle" style="font-size:2.75px" textLength="5.88" lengthAdjust="spacingAndGlyphs">Rayagada</text>
<text x="218.28" y="66.4" class="t" text-anchor="middle" style="font-size:2.75px" textLength="8.09" lengthAdjust="spacingAndGlyphs">Nabarangpur</text>
<text x="225.12" y="81.88" class="t" text-anchor="middle" style="font-size:2.75px" textLength="5.15" lengthAdjust="spacingAndGlyphs">Koraput</text>
<text x="211.45" y="91.34" class="t" text-anchor="middle" style="font-size:2.75px" textLength="7.35" lengthAdjust="spacingAndGlyphs">Malkangiri</text>
<line x1="195.2" y1="1.4" x2="195.2" y2="107.9" class="g"/>
<line x1="212.3" y1="1.4" x2="212.3" y2="107.9" class="g"/>
<line x1="229.4" y1="1.4" x2="229.4" y2="107.9" class="g"/>
<line x1="246.5" y1="1.4" x2="246.5" y2="107.9" class="g"/>
<line x1="263.6" y1="1.4" x2="263.6" y2="107.9" class="g"/>
<line x1="280.7" y1="1.4" x2="280.7" y2="107.9" class="g"/>
<line x1="297.8" y1="1.4" x2="297.8" y2="107.9" class="g"/>
<line x1="314.9" y1="1.4" x2="314.9" y2="107.9" class="g"/>
<line x1="332" y1="1.4" x2="332" y2="107.9" class="g"/>
<line x1="197.6" y1="95.6" x2="348.1" y2="95.6" class="g"/>
<line x1="197.6" y1="78.4" x2="348.1" y2="78.4" class="g"/>
<line x1="197.6" y1="61.2" x2="348.1" y2="61.2" class="g"/>
<line x1="197.6" y1="44" x2="348.1" y2="44" class="g"/>
<line x1="197.6" y1="26.8" x2="348.1" y2="26.8" class="g"/>
<line x1="197.6" y1="9.6" x2="348.1" y2="9.6" class="g"/>
<circle cx="277.8" cy="62.1" r="2" fill="#1428dc" fill-opacity="0.85" stroke="#0a18a8" stroke-width="0.3"/>
<circle cx="291.5" cy="55.5" r="1.5" fill="#1428dc" fill-opacity="0.85" stroke="#0a18a8" stroke-width="0.3"/>
<circle cx="281.7" cy="37.8" r="1.3" fill="#1428dc" fill-opacity="0.85" stroke="#0a18a8" stroke-width="0.3"/>
<circle cx="284.3" cy="52.4" r="1.3" fill="#1428dc" fill-opacity="0.85" stroke="#0a18a8" stroke-width="0.3"/>
<circle cx="262.3" cy="71.9" r="1.3" fill="#1428dc" fill-opacity="0.85" stroke="#0a18a8" stroke-width="0.3"/>
<circle cx="235.1" cy="53.3" r="1.3" fill="#1428dc" fill-opacity="0.85" stroke="#0a18a8" stroke-width="0.3"/>
<circle cx="256.2" cy="77.3" r="1.3" fill="#1428dc" fill-opacity="0.85" stroke="#0a18a8" stroke-width="0.3"/>
<circle cx="274" cy="57.9" r="1.2" fill="#1428dc" fill-opacity="0.85" stroke="#0a18a8" stroke-width="0.3"/>
<circle cx="237.7" cy="49.3" r="1.2" fill="#1428dc" fill-opacity="0.85" stroke="#0a18a8" stroke-width="0.3"/>
<circle cx="219.7" cy="82.9" r="0.9" fill="#1428dc" fill-opacity="0.85" stroke="#0a18a8" stroke-width="0.3"/>
<circle cx="282.2" cy="40.7" r="0.8" fill="#1428dc" fill-opacity="0.85" stroke="#0a18a8" stroke-width="0.3"/>
<circle cx="276.1" cy="41.6" r="0.8" fill="#1428dc" fill-opacity="0.85" stroke="#0a18a8" stroke-width="0.3"/>
<circle cx="286.3" cy="46.7" r="0.8" fill="#1428dc" fill-opacity="0.85" stroke="#0a18a8" stroke-width="0.3"/>
<circle cx="274" cy="49.8" r="0.8" fill="#1428dc" fill-opacity="0.85" stroke="#0a18a8" stroke-width="0.3"/>
<circle cx="283.4" cy="56.1" r="0.8" fill="#1428dc" fill-opacity="0.85" stroke="#0a18a8" stroke-width="0.3"/>
<circle cx="287.4" cy="40.4" r="0.7" fill="#1428dc" fill-opacity="0.85" stroke="#0a18a8" stroke-width="0.3"/>
<circle cx="273.5" cy="60.9" r="0.7" fill="#1428dc" fill-opacity="0.85" stroke="#0a18a8" stroke-width="0.3"/>
<circle cx="289.8" cy="42.4" r="0.6" fill="#1428dc" fill-opacity="0.85" stroke="#0a18a8" stroke-width="0.3"/>
<circle cx="279.5" cy="44.5" r="0.6" fill="#1428dc" fill-opacity="0.85" stroke="#0a18a8" stroke-width="0.3"/>
<circle cx="236.5" cy="75.6" r="0.6" fill="#1428dc" fill-opacity="0.85" stroke="#0a18a8" stroke-width="0.3"/>
<circle cx="283.4" cy="43.8" r="0.5" fill="#1428dc" fill-opacity="0.85" stroke="#0a18a8" stroke-width="0.3"/>
<circle cx="265.4" cy="46.4" r="0.5" fill="#1428dc" fill-opacity="0.85" stroke="#0a18a8" stroke-width="0.3"/>
<circle cx="285.1" cy="58.7" r="0.5" fill="#1428dc" fill-opacity="0.85" stroke="#0a18a8" stroke-width="0.3"/>
<circle cx="236.5" cy="43.5" r="0.5" fill="#1428dc" fill-opacity="0.85" stroke="#0a18a8" stroke-width="0.3"/>
<circle cx="250.6" cy="52.4" r="0.4" fill="#1428dc" fill-opacity="0.85" stroke="#0a18a8" stroke-width="0.3"/>
<line x1="197.6" y1="1.4" x2="197.6" y2="107.9" stroke="#ececec" stroke-width="0.6"/>
<line x1="193.4" y1="1.5" x2="348.1" y2="1.5" stroke="#bababa" stroke-width="1"/>
<line x1="193.4" y1="107.5" x2="348.1" y2="107.5" stroke="#bababa" stroke-width="1"/>
<line x1="193.5" y1="0.9" x2="193.5" y2="108.4" stroke="#bababa" stroke-width="1"/>
<line x1="348.5" y1="0.9" x2="348.5" y2="108.4" stroke="#bababa" stroke-width="1"/>
<text x="195.2" y="108.2" class="a" text-anchor="middle" style="font-size:2.75px" textLength="5.6" lengthAdjust="spacingAndGlyphs">81°0'E</text>
<text x="212.3" y="108.2" class="a" text-anchor="middle" style="font-size:2.75px" textLength="5.6" lengthAdjust="spacingAndGlyphs">82°0'E</text>
<text x="229.4" y="108.2" class="a" text-anchor="middle" style="font-size:2.75px" textLength="5.6" lengthAdjust="spacingAndGlyphs">83°0'E</text>
<text x="246.5" y="108.2" class="a" text-anchor="middle" style="font-size:2.75px" textLength="5.6" lengthAdjust="spacingAndGlyphs">84°0'E</text>
<text x="263.6" y="108.2" class="a" text-anchor="middle" style="font-size:2.75px" textLength="5.6" lengthAdjust="spacingAndGlyphs">85°0'E</text>
<text x="280.7" y="108.2" class="a" text-anchor="middle" style="font-size:2.75px" textLength="5.6" lengthAdjust="spacingAndGlyphs">86°0'E</text>
<text x="297.8" y="108.2" class="a" text-anchor="middle" style="font-size:2.75px" textLength="5.6" lengthAdjust="spacingAndGlyphs">87°0'E</text>
<text x="314.9" y="108.2" class="a" text-anchor="middle" style="font-size:2.75px" textLength="5.6" lengthAdjust="spacingAndGlyphs">88°0'E</text>
<text x="332" y="108.2" class="a" text-anchor="middle" style="font-size:2.75px" textLength="5.6" lengthAdjust="spacingAndGlyphs">89°0'E</text>
<text x="195.2" y="95.6" class="a" text-anchor="middle" style="font-size:2.75px" textLength="5.4" lengthAdjust="spacingAndGlyphs" dy="0.95" transform="rotate(-90 195.2 95.6)">18°0'N</text>
<text x="195.2" y="78.4" class="a" text-anchor="middle" style="font-size:2.75px" textLength="5.4" lengthAdjust="spacingAndGlyphs" dy="0.95" transform="rotate(-90 195.2 78.4)">19°0'N</text>
<text x="195.2" y="61.2" class="a" text-anchor="middle" style="font-size:2.75px" textLength="5.4" lengthAdjust="spacingAndGlyphs" dy="0.95" transform="rotate(-90 195.2 61.2)">20°0'N</text>
<text x="195.2" y="44" class="a" text-anchor="middle" style="font-size:2.75px" textLength="5.4" lengthAdjust="spacingAndGlyphs" dy="0.95" transform="rotate(-90 195.2 44)">21°0'N</text>
<text x="195.2" y="26.8" class="a" text-anchor="middle" style="font-size:2.75px" textLength="5.4" lengthAdjust="spacingAndGlyphs" dy="0.95" transform="rotate(-90 195.2 26.8)">22°0'N</text>
<text x="195.2" y="9.6" class="a" text-anchor="middle" style="font-size:2.75px" textLength="5.4" lengthAdjust="spacingAndGlyphs" dy="0.95" transform="rotate(-90 195.2 9.6)">23°0'N</text>
<text x="328.6" y="13.5" class="n" text-anchor="middle">N</text>
<path d="M328.6,14.5 L326.55,19.7 L330.65,19.7Z" fill="#111"/>
<rect x="238.9" y="95.8" width="12" height="1.7" fill="#111"/>
<rect x="250.9" y="96" width="12" height="1.3" fill="#fff" stroke="#777" stroke-width="0.4"/>
<text x="238.9" y="94.6" class="s" text-anchor="middle" style="font-size:2.75px" textLength="0.9" lengthAdjust="spacingAndGlyphs">0</text>
<text x="250.9" y="94.6" class="s" text-anchor="middle" style="font-size:2.75px" textLength="1.9" lengthAdjust="spacingAndGlyphs">75</text>
<text x="261.4" y="94.6" class="s" style="font-size:2.75px" textLength="5.6" lengthAdjust="spacingAndGlyphs">150 km</text>
<text x="315.4" y="36.2" class="ltr" style="font-size:3px" textLength="24.6" lengthAdjust="spacingAndGlyphs">Suspected Cases</text>
<text x="315.4" y="40.35" class="ls" style="font-size:2.75px" textLength="11.7" lengthAdjust="spacingAndGlyphs">Chickenpox</text>
<circle cx="317.1" cy="42.4" r="0.5" fill="#1428dc" stroke="#0a18a8" stroke-width="0.3"/>
<text x="321.6" y="43.3" class="ls" style="font-size:2.75px" textLength="3.9" lengthAdjust="spacingAndGlyphs">&lt;10</text>
<circle cx="317.1" cy="45.7" r="1" fill="#1428dc" stroke="#0a18a8" stroke-width="0.3"/>
<text x="321.6" y="46.6" class="ls" style="font-size:2.75px" textLength="7.16" lengthAdjust="spacingAndGlyphs">10 - 50</text>
<circle cx="317.1" cy="49.9" r="1.9" fill="#1428dc" stroke="#0a18a8" stroke-width="0.3"/>
<text x="321.6" y="50.8" class="ls" style="font-size:2.75px" textLength="8.44" lengthAdjust="spacingAndGlyphs">50 - 100</text>
<circle cx="317.1" cy="55.6" r="2.5" fill="#1428dc" stroke="#0a18a8" stroke-width="0.3"/>
<text x="321.6" y="56.5" class="ls" style="font-size:2.75px" textLength="5.18" lengthAdjust="spacingAndGlyphs">&gt;100</text>
<rect x="315.5" y="59.8" width="3.2" height="1.8" fill="#e1e3f4" stroke="#aab" stroke-width="0.2"/>
<text x="319.7" y="61.6" class="ls" style="font-size:2.75px" textLength="7.29" lengthAdjust="spacingAndGlyphs">Odisha</text>
</g>
<g id="p3">
<path d="M43.4,149.5 L42.39,146.69 L43.56,144.54 L45.74,142.38 L48.09,140.06 L50.27,137.91 L52.44,137.91 L55.79,139.57 L57.97,139.24 L62.49,138.24 L68.69,138.24 L70.37,143.87 L73.21,144.54 L79.91,144.87 L83.6,144.2 L84.1,137.58 L86.61,138.08 L90.8,139.73 L97.5,143.38 L103.36,147.18 L107.21,149.5 L108.55,151.16 L105.87,153.97 L104.03,155.8 L102.19,157.62 L100.35,160.1 L99.18,162.42 L99.18,165.57 L99.68,167.88 L100.35,169.87 L98.5,172.19 L97,172.36 L95.32,174.18 L92.64,176.83 L89.96,178.65 L86.45,180.8 L82.93,182.95 L79.41,184.28 L75.72,185.6 L72.21,186.93 L69.53,187.92 L68.52,190.41 L65.17,192.06 L61.82,193.72 L58.47,195.37 L56.3,197.53 L53.95,198.69 L50.6,199.18 L48.42,198.19 L46.24,196.37 L44.07,195.37 L41.89,196.37 L38.54,198.19 L34.35,198.02 L29.83,199.18 L26.48,201.5 L24.64,203.65 L22.96,205.97 L19.45,209.45 L14.92,211.77 L10.4,213.92 L6.38,215.58 L6.88,213.92 L9.23,210.61 L12.74,207.13 L16.09,203.65 L19.45,200.34 L21.29,195.71 L20.62,192.39 L18.44,187.76 L14.92,182.13 L14.42,179.81 L14.59,178.98 L21.46,180.14 L29.16,179.81 L23.8,178.48 L23.46,177.32 L23.13,174.51 L22.8,172.02 L22.46,168.38 L22.12,165.07 L23.46,164.57 L25.64,162.75 L27.32,160.6 L30,159.6 L34.52,159.6 L37.7,158.45 L38.87,155.8 L40.72,153.15Z" class="m"/>
<path d="M99.25,165.92 L97.08,165.82 L94.96,165.22 L92.82,164.76 L90.61,164.98 M100.01,160.76 L98.28,159.5 L96.3,158.57 L95.06,156.65 L92.85,156.01 L91.4,154.38 M90.61,164.98 L90.25,162.95 L89.62,161.01 L88.53,159.2 L88.63,157.04 L87.65,155.2 M91.4,154.38 L87.65,155.2 M94.45,175.04 L92.47,173.94 L91.06,172.18 L89.07,171.1 L87.69,169.31 M87.69,169.31 L88.9,166.97 L90.61,164.98 M100.53,145.35 L99.04,146.88 L97.38,148.25 L95.87,149.77 L94.35,151.28 L93.27,153.21 L91.4,154.38 M20.16,198.55 L21.6,200.4 L23.16,202.16 L24.17,204.31 M87.23,180.32 L85.98,178.66 L84.11,177.54 L83.11,175.67 M87.69,169.31 L87.03,169.46 M83.11,175.67 L84.03,173.36 L85.97,171.68 L87.03,169.46 M48.23,139.92 L49.16,141.77 L50.69,143.17 L52.01,144.73 L52.78,146.7 L54.11,148.25 L55.62,149.67 M42.65,150.52 L44.39,152.7 L46.49,154.55 M46.49,154.55 L48.15,153.25 L49.98,152.28 L51.82,151.35 L53.91,150.85 L55.62,149.67 M74.29,157.73 L77.11,157.54 L79.9,158.02 M74.29,157.73 L72.31,156.4 L70.56,154.78 M70.56,154.78 L69.99,152.51 L69.61,150.2 L69.42,147.84 L68.66,145.62 L68,143.37 M85.69,154.65 L83.94,156.07 L81.66,156.6 L79.9,158.02 M85.69,154.65 L85.27,152.55 L84.44,150.56 L84.34,148.39 L84.01,146.27 L83.08,144.3 M69.11,139.66 L68,143.37 M87.65,155.2 L85.69,154.65 M87.03,169.46 L84.99,168.53 L83.2,167.21 L81.36,165.95 M81.36,165.95 L81.13,163.95 L80.93,161.93 L80.67,159.93 L79.9,158.02 M55.62,149.67 L56.97,150.06 M56.97,150.06 L58.9,149.09 L60.7,147.91 L62.45,146.65 L64.32,145.59 L66.13,144.43 L68,143.37 M73.4,171.53 L72.83,173.5 L72.45,175.5 L72.44,177.53 L72.36,179.56 L71.77,181.53 L71.74,183.57 L71.82,185.61 M73.4,171.53 L75.72,171.53 M75.72,171.53 L77.71,172.75 L79.33,174.44 L81.31,175.67 M81.31,175.67 L80.42,177.61 L79.27,179.38 L77.99,181.06 L76.2,182.41 L75.03,184.17 L74.23,186.17 M72.64,186.77 L71.82,185.61 M81.36,165.95 L79.3,167.63 L77.55,169.62 L75.72,171.53 M70.06,169.24 L71.96,170.05 L73.4,171.53 M70.06,169.24 L71.08,167.44 L71.4,165.38 L72.29,163.53 L73.05,161.62 L73.41,159.58 L74.29,157.73 M83.11,175.67 L81.31,175.67 M60.02,194.61 L59.11,192.37 L57.07,190.89 L56.27,188.58 L54.61,186.85 L53.41,184.8 M71.82,185.61 L70.15,184.41 L68.34,183.45 L66.33,182.79 L64.58,181.73 L63.27,179.95 L61.31,179.22 M53.41,184.8 L55.57,183.67 L57.42,182.1 L59.11,180.3 L61.31,179.22 M23.11,174.36 L25.42,174.72 L27.63,175.48 M20.74,193.02 L22.83,192.12 L25,191.42 L26.89,190.08 L29,189.25 L31.13,188.46 M31.13,188.46 L30.55,186.3 L29.93,184.15 L29.74,181.89 L28.8,179.82 M28.77,179.71 L27.98,177.65 L27.63,175.48 M64.25,169.92 L63.31,171.94 L61.64,173.44 M64.25,169.92 L63.12,168.16 L62.55,166.14 L61.29,164.44 L60.57,162.5 L59.87,160.54 M61.64,173.44 L59.52,172.97 L57.62,171.77 L55.56,171.13 L53.25,171.3 L51.27,170.36 M51.27,170.36 L52.4,168.21 L53.03,165.91 L53.65,163.59 L54.33,161.3 M54.33,161.3 L56.55,160.64 L58.82,160.12 M59.87,160.54 L58.82,160.12 M70.06,169.24 L67.18,169.82 L64.25,169.92 M61.31,179.22 L61.59,176.34 L61.64,173.44 M70.56,154.78 L68.72,155.62 L67.04,156.78 L65.17,157.57 L63.49,158.73 L61.73,159.72 L59.87,160.54 M47.27,158.39 L49.74,159.1 L52.11,160.02 L54.33,161.3 M46.49,154.55 L47.27,158.39 M56.97,150.06 L57.45,152.05 L57.78,154.07 L58.1,156.09 L57.96,158.19 L58.82,160.12 M49.69,184.47 L47.88,182.25 L45.43,180.75 M49.69,184.47 L48.69,186.28 L48.22,188.29 L47.07,190.04 L46.79,192.12 L45.59,193.85 L45.24,195.91 M45.43,180.75 L43.64,182.17 L41.71,183.33 L39.42,183.9 L37.47,185.03 L35.65,186.39 L33.83,187.74 L31.74,188.65 M38.61,198.15 L37.05,196.38 L36.26,194.07 L34.1,192.73 L32.93,190.68 L31.74,188.65 M53.41,184.8 L49.69,184.47 M31.13,188.46 L31.74,188.65 M44.99,173.23 L44.23,170.91 L43.32,168.64 L43.33,166.11 L42.29,163.87 M44.99,173.23 L44.13,175.11 M44.13,175.11 L41.99,174.68 L39.78,174.77 L37.63,174.36 L35.47,174.1 L33.35,173.52 L31.18,173.28 M31.18,173.28 L31.42,171.24 L31.62,169.19 L31.93,167.15 L32.76,165.21 L32.7,163.11 L33.23,161.12 M33.23,161.12 L35.51,161.75 L37.9,162.03 L39.93,163.47 L42.29,163.87 M51.27,170.36 L49.36,171.72 L47.09,172.29 L44.99,173.23 M47.27,158.39 L45.27,159.92 L43.96,162.06 L42.29,163.87 M45.43,180.75 L44.37,178.02 L44.13,175.11 M27.63,175.48 L29.45,174.45 L31.18,173.28 M32.18,159.6 L33.23,161.12" class="d"/>
<text x="56.46" y="144.77" class="t" text-anchor="middle" style="font-size:2.75px" textLength="7.2" lengthAdjust="spacingAndGlyphs">Sundargarh</text>
<text x="49.76" y="149.74" class="t" text-anchor="middle" style="font-size:2.75px" textLength="7.2" lengthAdjust="spacingAndGlyphs">Jharsuguda</text>
<text x="53.11" y="155.87" class="t" text-anchor="middle" style="font-size:2.75px" textLength="6.48" lengthAdjust="spacingAndGlyphs">Sambalpur</text>
<text x="62.33" y="154.21" class="t" text-anchor="middle" style="font-size:2.75px" textLength="5.04" lengthAdjust="spacingAndGlyphs">Deogarh</text>
<text x="77.4" y="150.9" class="t" text-anchor="middle" style="font-size:2.75px" textLength="5.76" lengthAdjust="spacingAndGlyphs">Keonjhar</text>
<text x="90.8" y="147.59" class="t" text-anchor="middle" style="font-size:2.75px" textLength="7.2" lengthAdjust="spacingAndGlyphs">Mayurbhanj</text>
<text x="99.18" y="155.87" class="t" text-anchor="middle" style="font-size:2.75px" textLength="5.76" lengthAdjust="spacingAndGlyphs">Balasore</text>
<text x="94.15" y="162.49" class="t" text-anchor="middle" style="font-size:2.75px" textLength="5.04" lengthAdjust="spacingAndGlyphs">Bhadrak</text>
<text x="85.77" y="164.98" class="t" text-anchor="middle" style="font-size:2.75px" textLength="4.32" lengthAdjust="spacingAndGlyphs">Jajpur</text>
<text x="93.31" y="169.94" class="t" text-anchor="middle" style="font-size:2.75px" textLength="7.2" lengthAdjust="spacingAndGlyphs">Kendrapara</text>
<text x="88.29" y="175.74" class="t" text-anchor="middle" style="font-size:2.75px" textLength="9.36" lengthAdjust="spacingAndGlyphs">Jagatsinghpur</text>
<text x="81.59" y="171.6" class="t" text-anchor="middle" style="font-size:2.75px" textLength="5.04" lengthAdjust="spacingAndGlyphs">Cuttack</text>
<text x="76.56" y="166.63" class="t" text-anchor="middle" style="font-size:2.75px" textLength="6.48" lengthAdjust="spacingAndGlyphs">Dhenkanal</text>
<text x="67.35" y="163.32" class="t" text-anchor="middle" style="font-size:2.75px" textLength="3.6" lengthAdjust="spacingAndGlyphs">Angul</text>
<text x="76.56" y="178.22" class="t" text-anchor="middle" style="font-size:2.75px" textLength="5.04" lengthAdjust="spacingAndGlyphs">Khordha</text>
<text x="81.59" y="181.54" class="t" text-anchor="middle" style="font-size:2.75px" textLength="2.88" lengthAdjust="spacingAndGlyphs">Puri</text>
<text x="69.02" y="177.4" class="t" text-anchor="middle" style="font-size:2.75px" textLength="5.76" lengthAdjust="spacingAndGlyphs">Nayagarh</text>
<text x="62.33" y="188.16" class="t" text-anchor="middle" style="font-size:2.75px" textLength="4.32" lengthAdjust="spacingAndGlyphs">Ganjam</text>
<text x="52.27" y="194.78" class="t" text-anchor="middle" style="font-size:2.75px" textLength="5.76" lengthAdjust="spacingAndGlyphs">Gajapati</text>
<text x="53.95" y="176.57" class="t" text-anchor="middle" style="font-size:2.75px" textLength="6.48" lengthAdjust="spacingAndGlyphs">Kandhamal</text>
<text x="56.46" y="168.29" class="t" text-anchor="middle" style="font-size:2.75px" textLength="3.6" lengthAdjust="spacingAndGlyphs">Boudh</text>
<text x="48.93" y="165.8" class="t" text-anchor="middle" style="font-size:2.75px" textLength="5.04" lengthAdjust="spacingAndGlyphs">Sonepur</text>
<text x="40.55" y="158.35" class="t" text-anchor="middle" style="font-size:2.75px" textLength="5.04" lengthAdjust="spacingAndGlyphs">Bargarh</text>
<text x="37.2" y="169.12" class="t" text-anchor="middle" style="font-size:2.75px" textLength="5.76" lengthAdjust="spacingAndGlyphs">Bolangir</text>
<text x="27.15" y="167.46" class="t" text-anchor="middle" style="font-size:2.75px" textLength="5.04" lengthAdjust="spacingAndGlyphs">Nuapada</text>
<text x="35.52" y="180.71" class="t" text-anchor="middle" style="font-size:2.75px" textLength="6.48" lengthAdjust="spacingAndGlyphs">Kalahandi</text>
<text x="41.39" y="190.64" class="t" text-anchor="middle" style="font-size:2.75px" textLength="5.76" lengthAdjust="spacingAndGlyphs">Rayagada</text>
<text x="22.96" y="184.02" class="t" text-anchor="middle" style="font-size:2.75px" textLength="7.92" lengthAdjust="spacingAndGlyphs">Nabarangpur</text>
<text x="29.66" y="198.92" class="t" text-anchor="middle" style="font-size:2.75px" textLength="5.04" lengthAdjust="spacingAndGlyphs">Koraput</text>
<text x="16.26" y="208.03" class="t" text-anchor="middle" style="font-size:2.75px" textLength="7.2" lengthAdjust="spacingAndGlyphs">Malkangiri</text>
<line x1="17.1" y1="116.1" x2="17.1" y2="221" class="g"/>
<line x1="33.85" y1="116.1" x2="33.85" y2="221" class="g"/>
<line x1="50.6" y1="116.1" x2="50.6" y2="221" class="g"/>
<line x1="67.35" y1="116.1" x2="67.35" y2="221" class="g"/>
<line x1="84.1" y1="116.1" x2="84.1" y2="221" class="g"/>
<line x1="100.85" y1="116.1" x2="100.85" y2="221" class="g"/>
<line x1="117.6" y1="116.1" x2="117.6" y2="221" class="g"/>
<line x1="134.35" y1="116.1" x2="134.35" y2="221" class="g"/>
<line x1="151.1" y1="116.1" x2="151.1" y2="221" class="g"/>
<line x1="6.8" y1="212.1" x2="151.4" y2="212.1" class="g"/>
<line x1="6.8" y1="195.54" x2="151.4" y2="195.54" class="g"/>
<line x1="6.8" y1="178.98" x2="151.4" y2="178.98" class="g"/>
<line x1="6.8" y1="162.42" x2="151.4" y2="162.42" class="g"/>
<line x1="6.8" y1="145.86" x2="151.4" y2="145.86" class="g"/>
<line x1="6.8" y1="129.3" x2="151.4" y2="129.3" class="g"/>
<circle cx="86.6" cy="129.8" r="1.55" fill="#dca4b6" opacity="0.5"/>
<circle cx="93.9" cy="137.9" r="1.55" fill="#dca4b6" opacity="0.5"/>
<circle cx="96" cy="142.7" r="2.3" fill="#dca4b6" opacity="0.5"/>
<circle cx="99.1" cy="142.7" r="1.4" fill="#dca4b6" opacity="0.5"/>
<circle cx="97.7" cy="146.9" r="2" fill="#dca4b6" opacity="0.5"/>
<circle cx="108.3" cy="151.9" r="3.35" fill="#dca4b6" opacity="0.5"/>
<circle cx="74.6" cy="144.7" r="2" fill="#dca4b6" opacity="0.5"/>
<circle cx="77.7" cy="151.9" r="2.9" fill="#dca4b6" opacity="0.5"/>
<circle cx="80.6" cy="152.4" r="1.55" fill="#dca4b6" opacity="0.5"/>
<circle cx="90.9" cy="158.4" r="2.6" fill="#dca4b6" opacity="0.5"/>
<circle cx="92.9" cy="163.6" r="2.75" fill="#dca4b6" opacity="0.5"/>
<circle cx="96.9" cy="161" r="1.7" fill="#dca4b6" opacity="0.5"/>
<circle cx="72" cy="155.9" r="1.55" fill="#dca4b6" opacity="0.5"/>
<circle cx="73.7" cy="156.7" r="1.4" fill="#dca4b6" opacity="0.5"/>
<circle cx="69.4" cy="165.8" r="2.15" fill="#dca4b6" opacity="0.5"/>
<circle cx="82.9" cy="171.1" r="4.7" fill="#dca4b6" opacity="0.5"/>
<circle cx="82" cy="174.6" r="3.95" fill="#dca4b6" opacity="0.5"/>
<circle cx="70.9" cy="172" r="3.05" fill="#dca4b6" opacity="0.5"/>
<circle cx="70.5" cy="177.1" r="3.05" fill="#dca4b6" opacity="0.5"/>
<circle cx="87.1" cy="175.4" r="2.3" fill="#dca4b6" opacity="0.5"/>
<circle cx="91.4" cy="176.3" r="1.7" fill="#dca4b6" opacity="0.5"/>
<circle cx="92.3" cy="163.4" r="2.6" fill="#dca4b6" opacity="0.5"/>
<circle cx="95.7" cy="166" r="1.4" fill="#dca4b6" opacity="0.5"/>
<circle cx="69.1" cy="166" r="2" fill="#dca4b6" opacity="0.5"/>
<circle cx="65.7" cy="174.6" r="1.4" fill="#dca4b6" opacity="0.5"/>
<circle cx="64" cy="190" r="3.8" fill="#dca4b6" opacity="0.5"/>
<circle cx="67.4" cy="190.9" r="2.6" fill="#dca4b6" opacity="0.5"/>
<circle cx="62.3" cy="192.6" r="2.3" fill="#dca4b6" opacity="0.5"/>
<circle cx="53.7" cy="191.7" r="2.45" fill="#dca4b6" opacity="0.5"/>
<circle cx="41.7" cy="192.6" r="3.05" fill="#dca4b6" opacity="0.5"/>
<circle cx="81.1" cy="180.6" r="1.4" fill="#dca4b6" opacity="0.5"/>
<circle cx="81.1" cy="183.1" r="1.25" fill="#dca4b6" opacity="0.5"/>
<circle cx="55.4" cy="171.1" r="1.25" fill="#dca4b6" opacity="0.5"/>
<circle cx="48.6" cy="196.9" r="1.25" fill="#dca4b6" opacity="0.5"/>
<circle cx="29.5" cy="185.1" r="2.45" fill="#dca4b6" opacity="0.5"/>
<circle cx="27.3" cy="192" r="1.55" fill="#dca4b6" opacity="0.5"/>
<circle cx="29.9" cy="199.4" r="2.75" fill="#dca4b6" opacity="0.5"/>
<circle cx="32.4" cy="198.3" r="1.7" fill="#dca4b6" opacity="0.5"/>
<circle cx="39.3" cy="197.1" r="2.45" fill="#dca4b6" opacity="0.5"/>
<circle cx="44.4" cy="192" r="1.55" fill="#dca4b6" opacity="0.5"/>
<circle cx="49.6" cy="198.3" r="1.4" fill="#dca4b6" opacity="0.5"/>
<circle cx="53.9" cy="191.1" r="2.45" fill="#dca4b6" opacity="0.5"/>
<circle cx="55.6" cy="171.4" r="1.4" fill="#dca4b6" opacity="0.5"/>
<circle cx="44.1" cy="182.6" r="1.4" fill="#dca4b6" opacity="0.5"/>
<circle cx="16.1" cy="204.5" r="2.6" fill="#dca4b6" opacity="0.5"/>
<circle cx="15.6" cy="208" r="1.85" fill="#dca4b6" opacity="0.5"/>
<circle cx="10.1" cy="210" r="1.55" fill="#dca4b6" opacity="0.5"/>
<circle cx="17.9" cy="210.9" r="1.4" fill="#dca4b6" opacity="0.5"/>
<circle cx="90.9" cy="169.6" r="1.55" fill="#dca4b6" opacity="0.5"/>
<circle cx="96.9" cy="166.1" r="1.4" fill="#dca4b6" opacity="0.5"/>
<circle cx="65.1" cy="175.6" r="1.55" fill="#dca4b6" opacity="0.5"/>
<circle cx="63.4" cy="161" r="1.55" fill="#dca4b6" opacity="0.5"/>
<circle cx="66" cy="179.9" r="1.4" fill="#dca4b6" opacity="0.5"/>
<circle cx="82.9" cy="171.1" r="2.8" fill="#b0445f" fill-opacity="0.85" stroke="#8a2a44" stroke-width="0.3"/>
<circle cx="82" cy="174.6" r="2.3" fill="#b0445f" fill-opacity="0.85" stroke="#8a2a44" stroke-width="0.3"/>
<circle cx="64" cy="190" r="2.2" fill="#b0445f" fill-opacity="0.85" stroke="#8a2a44" stroke-width="0.3"/>
<circle cx="108.3" cy="151.9" r="1.9" fill="#b0445f" fill-opacity="0.85" stroke="#8a2a44" stroke-width="0.3"/>
<circle cx="70.9" cy="172" r="1.7" fill="#b0445f" fill-opacity="0.85" stroke="#8a2a44" stroke-width="0.3"/>
<circle cx="70.5" cy="177.1" r="1.7" fill="#b0445f" fill-opacity="0.85" stroke="#8a2a44" stroke-width="0.3"/>
<circle cx="41.7" cy="192.6" r="1.7" fill="#b0445f" fill-opacity="0.85" stroke="#8a2a44" stroke-width="0.3"/>
<circle cx="77.7" cy="151.9" r="1.6" fill="#b0445f" fill-opacity="0.85" stroke="#8a2a44" stroke-width="0.3"/>
<circle cx="92.9" cy="163.6" r="1.5" fill="#b0445f" fill-opacity="0.85" stroke="#8a2a44" stroke-width="0.3"/>
<circle cx="29.9" cy="199.4" r="1.5" fill="#b0445f" fill-opacity="0.85" stroke="#8a2a44" stroke-width="0.3"/>
<circle cx="90.9" cy="158.4" r="1.4" fill="#b0445f" fill-opacity="0.85" stroke="#8a2a44" stroke-width="0.3"/>
<circle cx="92.3" cy="163.4" r="1.4" fill="#b0445f" fill-opacity="0.85" stroke="#8a2a44" stroke-width="0.3"/>
<circle cx="67.4" cy="190.9" r="1.4" fill="#b0445f" fill-opacity="0.85" stroke="#8a2a44" stroke-width="0.3"/>
<circle cx="16.1" cy="204.5" r="1.4" fill="#b0445f" fill-opacity="0.85" stroke="#8a2a44" stroke-width="0.3"/>
<circle cx="53.7" cy="191.7" r="1.3" fill="#b0445f" fill-opacity="0.85" stroke="#8a2a44" stroke-width="0.3"/>
<circle cx="29.5" cy="185.1" r="1.3" fill="#b0445f" fill-opacity="0.85" stroke="#8a2a44" stroke-width="0.3"/>
<circle cx="39.3" cy="197.1" r="1.3" fill="#b0445f" fill-opacity="0.85" stroke="#8a2a44" stroke-width="0.3"/>
<circle cx="53.9" cy="191.1" r="1.3" fill="#b0445f" fill-opacity="0.85" stroke="#8a2a44" stroke-width="0.3"/>
<circle cx="96" cy="142.7" r="1.2" fill="#b0445f" fill-opacity="0.85" stroke="#8a2a44" stroke-width="0.3"/>
<circle cx="87.1" cy="175.4" r="1.2" fill="#b0445f" fill-opacity="0.85" stroke="#8a2a44" stroke-width="0.3"/>
<circle cx="62.3" cy="192.6" r="1.2" fill="#b0445f" fill-opacity="0.85" stroke="#8a2a44" stroke-width="0.3"/>
<circle cx="69.4" cy="165.8" r="1.1" fill="#b0445f" fill-opacity="0.85" stroke="#8a2a44" stroke-width="0.3"/>
<circle cx="97.7" cy="146.9" r="1" fill="#b0445f" fill-opacity="0.85" stroke="#8a2a44" stroke-width="0.3"/>
<circle cx="74.6" cy="144.7" r="1" fill="#b0445f" fill-opacity="0.85" stroke="#8a2a44" stroke-width="0.3"/>
<circle cx="69.1" cy="166" r="1" fill="#b0445f" fill-opacity="0.85" stroke="#8a2a44" stroke-width="0.3"/>
<circle cx="15.6" cy="208" r="0.9" fill="#b0445f" fill-opacity="0.85" stroke="#8a2a44" stroke-width="0.3"/>
<circle cx="96.9" cy="161" r="0.8" fill="#b0445f" fill-opacity="0.85" stroke="#8a2a44" stroke-width="0.3"/>
<circle cx="91.4" cy="176.3" r="0.8" fill="#b0445f" fill-opacity="0.85" stroke="#8a2a44" stroke-width="0.3"/>
<circle cx="32.4" cy="198.3" r="0.8" fill="#b0445f" fill-opacity="0.85" stroke="#8a2a44" stroke-width="0.3"/>
<circle cx="86.6" cy="129.8" r="0.7" fill="#b0445f" fill-opacity="0.85" stroke="#8a2a44" stroke-width="0.3"/>
<circle cx="93.9" cy="137.9" r="0.7" fill="#b0445f" fill-opacity="0.85" stroke="#8a2a44" stroke-width="0.3"/>
<circle cx="80.6" cy="152.4" r="0.7" fill="#b0445f" fill-opacity="0.85" stroke="#8a2a44" stroke-width="0.3"/>
<circle cx="72" cy="155.9" r="0.7" fill="#b0445f" fill-opacity="0.85" stroke="#8a2a44" stroke-width="0.3"/>
<circle cx="27.3" cy="192" r="0.7" fill="#b0445f" fill-opacity="0.85" stroke="#8a2a44" stroke-width="0.3"/>
<circle cx="44.4" cy="192" r="0.7" fill="#b0445f" fill-opacity="0.85" stroke="#8a2a44" stroke-width="0.3"/>
<circle cx="10.1" cy="210" r="0.7" fill="#b0445f" fill-opacity="0.85" stroke="#8a2a44" stroke-width="0.3"/>
<circle cx="90.9" cy="169.6" r="0.7" fill="#b0445f" fill-opacity="0.85" stroke="#8a2a44" stroke-width="0.3"/>
<circle cx="65.1" cy="175.6" r="0.7" fill="#b0445f" fill-opacity="0.85" stroke="#8a2a44" stroke-width="0.3"/>
<circle cx="63.4" cy="161" r="0.7" fill="#b0445f" fill-opacity="0.85" stroke="#8a2a44" stroke-width="0.3"/>
<circle cx="99.1" cy="142.7" r="0.6" fill="#b0445f" fill-opacity="0.85" stroke="#8a2a44" stroke-width="0.3"/>
<circle cx="73.7" cy="156.7" r="0.6" fill="#b0445f" fill-opacity="0.85" stroke="#8a2a44" stroke-width="0.3"/>
<circle cx="95.7" cy="166" r="0.6" fill="#b0445f" fill-opacity="0.85" stroke="#8a2a44" stroke-width="0.3"/>
<circle cx="65.7" cy="174.6" r="0.6" fill="#b0445f" fill-opacity="0.85" stroke="#8a2a44" stroke-width="0.3"/>
<circle cx="81.1" cy="180.6" r="0.6" fill="#b0445f" fill-opacity="0.85" stroke="#8a2a44" stroke-width="0.3"/>
<circle cx="49.6" cy="198.3" r="0.6" fill="#b0445f" fill-opacity="0.85" stroke="#8a2a44" stroke-width="0.3"/>
<circle cx="55.6" cy="171.4" r="0.6" fill="#b0445f" fill-opacity="0.85" stroke="#8a2a44" stroke-width="0.3"/>
<circle cx="44.1" cy="182.6" r="0.6" fill="#b0445f" fill-opacity="0.85" stroke="#8a2a44" stroke-width="0.3"/>
<circle cx="17.9" cy="210.9" r="0.6" fill="#b0445f" fill-opacity="0.85" stroke="#8a2a44" stroke-width="0.3"/>
<circle cx="96.9" cy="166.1" r="0.6" fill="#b0445f" fill-opacity="0.85" stroke="#8a2a44" stroke-width="0.3"/>
<circle cx="66" cy="179.9" r="0.6" fill="#b0445f" fill-opacity="0.85" stroke="#8a2a44" stroke-width="0.3"/>
<circle cx="81.1" cy="183.1" r="0.5" fill="#b0445f" fill-opacity="0.85" stroke="#8a2a44" stroke-width="0.3"/>
<circle cx="55.4" cy="171.1" r="0.5" fill="#b0445f" fill-opacity="0.85" stroke="#8a2a44" stroke-width="0.3"/>
<circle cx="48.6" cy="196.9" r="0.5" fill="#b0445f" fill-opacity="0.85" stroke="#8a2a44" stroke-width="0.3"/>
<line x1="6.8" y1="116.1" x2="6.8" y2="221" stroke="#ececec" stroke-width="0.6"/>
<line x1="2.6" y1="116.5" x2="151.4" y2="116.5" stroke="#dedede" stroke-width="1"/>
<line x1="2.6" y1="221.5" x2="151.4" y2="221.5" stroke="#e2e2e2" stroke-width="1"/>
<line x1="2.5" y1="115.6" x2="2.5" y2="221.5" stroke="#bababa" stroke-width="1"/>
<line x1="151.5" y1="115.6" x2="151.5" y2="221.5" stroke="#bababa" stroke-width="1"/>
<text x="17.1" y="221.3" class="a" text-anchor="middle" style="font-size:2.75px" textLength="5.6" lengthAdjust="spacingAndGlyphs">82°0'E</text>
<text x="33.85" y="221.3" class="a" text-anchor="middle" style="font-size:2.75px" textLength="5.6" lengthAdjust="spacingAndGlyphs">83°0'E</text>
<text x="50.6" y="221.3" class="a" text-anchor="middle" style="font-size:2.75px" textLength="5.6" lengthAdjust="spacingAndGlyphs">84°0'E</text>
<text x="67.35" y="221.3" class="a" text-anchor="middle" style="font-size:2.75px" textLength="5.6" lengthAdjust="spacingAndGlyphs">85°0'E</text>
<text x="84.1" y="221.3" class="a" text-anchor="middle" style="font-size:2.75px" textLength="5.6" lengthAdjust="spacingAndGlyphs">86°0'E</text>
<text x="100.85" y="221.3" class="a" text-anchor="middle" style="font-size:2.75px" textLength="5.6" lengthAdjust="spacingAndGlyphs">87°0'E</text>
<text x="117.6" y="221.3" class="a" text-anchor="middle" style="font-size:2.75px" textLength="5.6" lengthAdjust="spacingAndGlyphs">88°0'E</text>
<text x="134.35" y="221.3" class="a" text-anchor="middle" style="font-size:2.75px" textLength="5.6" lengthAdjust="spacingAndGlyphs">89°0'E</text>
<text x="151.1" y="221.3" class="a" text-anchor="middle" style="font-size:2.75px" textLength="5.6" lengthAdjust="spacingAndGlyphs">90°0'E</text>
<text x="4.4" y="212.1" class="a" text-anchor="middle" style="font-size:2.75px" textLength="5.4" lengthAdjust="spacingAndGlyphs" dy="0.95" transform="rotate(-90 4.4 212.1)">18°0'N</text>
<text x="4.4" y="195.54" class="a" text-anchor="middle" style="font-size:2.75px" textLength="5.4" lengthAdjust="spacingAndGlyphs" dy="0.95" transform="rotate(-90 4.4 195.54)">19°0'N</text>
<text x="4.4" y="178.98" class="a" text-anchor="middle" style="font-size:2.75px" textLength="5.4" lengthAdjust="spacingAndGlyphs" dy="0.95" transform="rotate(-90 4.4 178.98)">20°0'N</text>
<text x="4.4" y="162.42" class="a" text-anchor="middle" style="font-size:2.75px" textLength="5.4" lengthAdjust="spacingAndGlyphs" dy="0.95" transform="rotate(-90 4.4 162.42)">21°0'N</text>
<text x="4.4" y="145.86" class="a" text-anchor="middle" style="font-size:2.75px" textLength="5.4" lengthAdjust="spacingAndGlyphs" dy="0.95" transform="rotate(-90 4.4 145.86)">22°0'N</text>
<text x="4.4" y="129.3" class="a" text-anchor="middle" style="font-size:2.75px" textLength="5.4" lengthAdjust="spacingAndGlyphs" dy="0.95" transform="rotate(-90 4.4 129.3)">23°0'N</text>
<text x="133.1" y="126.9" class="n" text-anchor="middle">N</text>
<path d="M133.1,129.5 L131.8,134.4 L134.4,134.4Z" fill="#111"/>
<rect x="40" y="213" width="12.9" height="1.6" fill="#111"/>
<rect x="52.9" y="213.2" width="12" height="1.2" fill="#fff" stroke="#777" stroke-width="0.4"/>
<text x="40" y="212.2" class="s" text-anchor="middle" style="font-size:2.75px" textLength="0.9" lengthAdjust="spacingAndGlyphs">0</text>
<text x="52.9" y="212.2" class="s" text-anchor="middle" style="font-size:2.75px" textLength="1.9" lengthAdjust="spacingAndGlyphs">75</text>
<text x="63.4" y="212.2" class="s" style="font-size:2.75px" textLength="5.6" lengthAdjust="spacingAndGlyphs">150 km</text>
<rect x="120.5" y="150.9" width="24.8" height="33.8" fill="#fff" stroke="#a8a8a8" stroke-width="0.7"/>
<text x="121.6" y="154.7" class="ltr" style="font-size:3px" textLength="21" lengthAdjust="spacingAndGlyphs">Suspected Cases</text>
<text x="121.6" y="157.75" class="ls" style="font-size:2.75px" textLength="5.4" lengthAdjust="spacingAndGlyphs">Dengue</text>
<circle cx="123.3" cy="160.3" r="0.45" fill="#c42a4e" stroke="#8a2a44" stroke-width="0.3"/>
<text x="128" y="161.2" class="ls" style="font-size:2.75px" textLength="4.16" lengthAdjust="spacingAndGlyphs">&lt;10</text>
<circle cx="123.3" cy="163.8" r="1.1" fill="#c42a4e" stroke="#8a2a44" stroke-width="0.3"/>
<text x="128" y="164.7" class="ls" style="font-size:2.75px" textLength="7.63" lengthAdjust="spacingAndGlyphs">10 - 50</text>
<circle cx="123.3" cy="168.2" r="1.8" fill="#c42a4e" stroke="#8a2a44" stroke-width="0.3"/>
<text x="128" y="169.1" class="ls" style="font-size:2.75px" textLength="8.99" lengthAdjust="spacingAndGlyphs">50 - 100</text>
<circle cx="123.3" cy="174.2" r="2.65" fill="#c42a4e" stroke="#8a2a44" stroke-width="0.3"/>
<text x="128" y="175.1" class="ls" style="font-size:2.75px" textLength="5.52" lengthAdjust="spacingAndGlyphs">&gt;100</text>
<text x="121.6" y="180.45" class="ls" style="font-size:2.75px" textLength="7.76" lengthAdjust="spacingAndGlyphs">Odisha</text>
<rect x="121.7" y="181.5" width="3.2" height="1.8" fill="#e1e3f4" stroke="#aab" stroke-width="0.2"/>
<text x="125.9" y="183.3" class="ls" style="font-size:2.75px" textLength="7.76" lengthAdjust="spacingAndGlyphs">Odisha</text>
</g>
<g id="p4">
<path d="M246.33,134.92 L245.04,131.27 L246.55,128.48 L249.35,125.7 L252.37,122.69 L255.17,119.9 L257.97,119.9 L262.28,122.05 L265.08,121.62 L270.9,120.33 L278.87,120.33 L281.03,127.63 L284.69,128.48 L293.31,128.91 L298.05,128.05 L298.7,119.48 L301.93,120.12 L307.32,122.26 L315.94,126.98 L323.48,131.92 L328.44,134.92 L330.16,137.06 L326.71,140.71 L324.34,143.07 L321.97,145.43 L319.6,148.65 L318.1,151.65 L318.1,155.73 L318.74,158.73 L319.6,161.3 L317.23,164.31 L315.29,164.52 L313.14,166.88 L309.69,170.31 L306.24,172.67 L301.72,175.46 L297.19,178.25 L292.67,179.96 L287.93,181.68 L283.4,183.4 L279.95,184.68 L278.66,187.9 L274.35,190.05 L270.04,192.19 L265.73,194.34 L262.93,197.12 L259.91,198.63 L255.6,199.27 L252.8,197.98 L250,195.62 L247.2,194.34 L244.39,195.62 L240.08,197.98 L234.7,197.77 L228.88,199.27 L224.57,202.27 L222.2,205.06 L220.04,208.06 L215.52,212.57 L209.7,215.57 L203.88,218.36 L198.71,220.5 L199.35,218.36 L202.37,214.07 L206.9,209.56 L211.21,205.06 L215.52,200.77 L217.89,194.76 L217.03,190.47 L214.22,184.47 L209.7,177.18 L209.05,174.17 L209.27,173.1 L218.1,174.6 L228.02,174.17 L221.12,172.46 L220.69,170.95 L220.26,167.31 L219.83,164.09 L219.4,159.37 L218.96,155.08 L220.69,154.44 L223.49,152.08 L225.65,149.29 L229.09,148 L234.91,148 L239.01,146.5 L240.51,143.07 L242.89,139.64Z" class="m"/>
<path d="M318.19,156.19 L315.4,156.06 L312.67,155.28 L309.92,154.68 L307.08,154.96 M319.17,149.51 L316.95,147.86 L314.39,146.66 L312.8,144.17 L309.96,143.35 L308.09,141.23 M307.08,154.96 L306.61,152.34 L305.8,149.82 L304.4,147.48 L304.53,144.68 L303.26,142.3 M308.09,141.23 L303.26,142.3 M312.02,167.99 L309.47,166.57 L307.66,164.29 L305.09,162.89 L303.32,160.57 M303.32,160.57 L304.87,157.55 L307.08,154.96 M319.84,129.53 L317.92,131.52 L315.78,133.29 L313.85,135.26 L311.89,137.22 L310.49,139.73 L308.09,141.23 M216.44,198.44 L218.29,200.84 L220.3,203.13 L221.59,205.91 M302.72,174.84 L301.12,172.68 L298.71,171.23 L297.42,168.81 M303.32,160.57 L302.47,160.77 M297.42,168.81 L298.6,165.82 L301.11,163.65 L302.47,160.77 M252.55,122.51 L253.75,124.9 L255.72,126.72 L257.41,128.74 L258.41,131.29 L260.11,133.3 L262.06,135.13 M245.37,136.24 L247.61,139.07 L250.32,141.45 M250.32,141.45 L252.44,139.77 L254.8,138.52 L257.17,137.31 L259.86,136.67 L262.06,135.13 M286.08,145.57 L289.71,145.33 L293.3,145.95 M286.08,145.57 L283.53,143.85 L281.29,141.75 M281.29,141.75 L280.54,138.81 L280.05,135.82 L279.82,132.77 L278.84,129.89 L277.99,126.97 M300.75,141.58 L298.49,143.42 L295.56,144.12 L293.3,145.95 M300.75,141.58 L300.2,138.87 L299.13,136.29 L299.01,133.47 L298.58,130.73 L297.38,128.18 M279.42,122.16 L277.99,126.97 M303.26,142.3 L300.75,141.58 M302.47,160.77 L299.85,159.56 L297.54,157.86 L295.18,156.23 M295.18,156.23 L294.88,153.63 L294.62,151.02 L294.29,148.42 L293.3,145.95 M262.06,135.13 L263.79,135.65 M263.79,135.65 L266.27,134.39 L268.59,132.86 L270.84,131.23 L273.25,129.86 L275.58,128.35 L277.99,126.97 M284.93,163.45 L284.2,166.01 L283.71,168.59 L283.69,171.23 L283.6,173.85 L282.84,176.41 L282.79,179.04 L282.9,181.69 M284.93,163.45 L287.93,163.45 M287.93,163.45 L290.47,165.03 L292.57,167.21 L295.11,168.81 M295.11,168.81 L293.97,171.33 L292.49,173.62 L290.84,175.8 L288.53,177.54 L287.03,179.82 L286,182.41 M283.95,183.19 L282.9,181.69 M295.18,156.23 L292.52,158.39 L290.28,160.98 L287.93,163.45 M280.63,160.48 L283.08,161.54 L284.93,163.45 M280.63,160.48 L281.95,158.15 L282.36,155.48 L283.51,153.08 L284.48,150.62 L284.95,147.97 L286.08,145.57 M297.42,168.81 L295.11,168.81 M267.72,193.34 L266.55,190.45 L263.92,188.53 L262.89,185.54 L260.75,183.29 L259.21,180.64 M282.9,181.69 L280.75,180.14 L278.42,178.89 L275.84,178.03 L273.58,176.66 L271.91,174.35 L269.38,173.41 M259.21,180.64 L262,179.17 L264.37,177.13 L266.54,174.81 L269.38,173.41 M220.23,167.11 L223.2,167.58 L226.05,168.56 M217.19,191.28 L219.87,190.12 L222.66,189.21 L225.09,187.48 L227.81,186.4 L230.55,185.37 M230.55,185.37 L229.8,182.58 L229,179.8 L228.76,176.87 L227.55,174.19 M227.52,174.05 L226.49,171.38 L226.05,168.56 M273.16,161.36 L271.95,163.98 L269.8,165.92 M273.16,161.36 L271.71,159.08 L270.98,156.47 L269.36,154.27 L268.42,151.75 L267.53,149.22 M269.8,165.92 L267.08,165.31 L264.63,163.76 L261.98,162.94 L259.01,163.15 L256.47,161.94 M256.47,161.94 L257.91,159.16 L258.73,156.17 L259.53,153.17 L260.4,150.2 M260.4,150.2 L263.26,149.34 L266.17,148.66 M267.53,149.22 L266.17,148.66 M280.63,160.48 L276.93,161.23 L273.16,161.36 M269.38,173.41 L269.73,169.67 L269.8,165.92 M281.29,141.75 L278.91,142.84 L276.76,144.35 L274.34,145.36 L272.19,146.87 L269.92,148.15 L267.53,149.22 M251.32,146.43 L254.49,147.35 L257.54,148.55 L260.4,150.2 M250.32,141.45 L251.32,146.43 M263.79,135.65 L264.42,138.22 L264.84,140.84 L265.25,143.45 L265.07,146.17 L266.17,148.66 M254.43,180.21 L252.11,177.33 L248.95,175.4 M254.43,180.21 L253.14,182.55 L252.54,185.16 L251.06,187.42 L250.7,190.12 L249.16,192.37 L248.7,195.03 M248.95,175.4 L246.65,177.23 L244.16,178.73 L241.22,179.47 L238.71,180.94 L236.37,182.69 L234.02,184.44 L231.34,185.62 M240.17,197.93 L238.17,195.64 L237.15,192.65 L234.37,190.91 L232.87,188.25 L231.34,185.62 M259.21,180.64 L254.43,180.21 M230.55,185.37 L231.34,185.62 M248.38,165.65 L247.4,162.65 L246.24,159.71 L246.25,156.42 L244.9,153.53 M248.38,165.65 L247.28,168.09 M247.28,168.09 L244.53,167.53 L241.68,167.64 L238.92,167.12 L236.13,166.77 L233.41,166.03 L230.62,165.72 M230.62,165.72 L230.92,163.07 L231.18,160.41 L231.58,157.78 L232.65,155.26 L232.57,152.55 L233.26,149.96 M233.26,149.96 L236.19,150.78 L239.27,151.14 L241.88,153.01 L244.9,153.53 M256.47,161.94 L254.01,163.69 L251.09,164.44 L248.38,165.65 M251.32,146.43 L248.75,148.41 L247.06,151.18 L244.9,153.53 M248.95,175.4 L247.58,171.86 L247.28,168.09 M226.05,168.56 L228.39,167.23 L230.62,165.72 M231.9,148 L233.26,149.96" class="d"/>
<text x="263.14" y="128.53" class="t" text-anchor="middle" style="font-size:2.75px" textLength="9.27" lengthAdjust="spacingAndGlyphs">Sundargarh</text>
<text x="254.52" y="134.96" class="t" text-anchor="middle" style="font-size:2.75px" textLength="9.27" lengthAdjust="spacingAndGlyphs">Jharsuguda</text>
<text x="258.83" y="142.9" class="t" text-anchor="middle" style="font-size:2.75px" textLength="8.34" lengthAdjust="spacingAndGlyphs">Sambalpur</text>
<text x="270.69" y="140.75" class="t" text-anchor="middle" style="font-size:2.75px" textLength="6.49" lengthAdjust="spacingAndGlyphs">Deogarh</text>
<text x="290.08" y="136.46" class="t" text-anchor="middle" style="font-size:2.75px" textLength="7.41" lengthAdjust="spacingAndGlyphs">Keonjhar</text>
<text x="307.32" y="132.17" class="t" text-anchor="middle" style="font-size:2.75px" textLength="9.27" lengthAdjust="spacingAndGlyphs">Mayurbhanj</text>
<text x="318.1" y="142.9" class="t" text-anchor="middle" style="font-size:2.75px" textLength="7.41" lengthAdjust="spacingAndGlyphs">Balasore</text>
<text x="311.63" y="151.48" class="t" text-anchor="middle" style="font-size:2.75px" textLength="6.49" lengthAdjust="spacingAndGlyphs">Bhadrak</text>
<text x="300.85" y="154.7" class="t" text-anchor="middle" style="font-size:2.75px" textLength="5.56" lengthAdjust="spacingAndGlyphs">Jajpur</text>
<text x="310.55" y="161.13" class="t" text-anchor="middle" style="font-size:2.75px" textLength="9.27" lengthAdjust="spacingAndGlyphs">Kendrapara</text>
<text x="304.09" y="168.64" class="t" text-anchor="middle" style="font-size:2.75px" textLength="12.05" lengthAdjust="spacingAndGlyphs">Jagatsinghpur</text>
<text x="295.47" y="163.28" class="t" text-anchor="middle" style="font-size:2.75px" textLength="6.49" lengthAdjust="spacingAndGlyphs">Cuttack</text>
<text x="289" y="156.84" class="t" text-anchor="middle" style="font-size:2.75px" textLength="8.34" lengthAdjust="spacingAndGlyphs">Dhenkanal</text>
<text x="277.15" y="152.55" class="t" text-anchor="middle" style="font-size:2.75px" textLength="4.63" lengthAdjust="spacingAndGlyphs">Angul</text>
<text x="289" y="171.85" class="t" text-anchor="middle" style="font-size:2.75px" textLength="6.49" lengthAdjust="spacingAndGlyphs">Khordha</text>
<text x="295.47" y="176.15" class="t" text-anchor="middle" style="font-size:2.75px" textLength="3.71" lengthAdjust="spacingAndGlyphs">Puri</text>
<text x="279.3" y="170.78" class="t" text-anchor="middle" style="font-size:2.75px" textLength="7.41" lengthAdjust="spacingAndGlyphs">Nayagarh</text>
<text x="270.69" y="184.72" class="t" text-anchor="middle" style="font-size:2.75px" textLength="5.56" lengthAdjust="spacingAndGlyphs">Ganjam</text>
<text x="257.75" y="193.3" class="t" text-anchor="middle" style="font-size:2.75px" textLength="7.41" lengthAdjust="spacingAndGlyphs">Gajapati</text>
<text x="259.91" y="169.71" class="t" text-anchor="middle" style="font-size:2.75px" textLength="8.34" lengthAdjust="spacingAndGlyphs">Kandhamal</text>
<text x="263.14" y="158.99" class="t" text-anchor="middle" style="font-size:2.75px" textLength="4.63" lengthAdjust="spacingAndGlyphs">Boudh</text>
<text x="253.45" y="155.77" class="t" text-anchor="middle" style="font-size:2.75px" textLength="6.49" lengthAdjust="spacingAndGlyphs">Sonepur</text>
<text x="242.67" y="146.11" class="t" text-anchor="middle" style="font-size:2.75px" textLength="6.49" lengthAdjust="spacingAndGlyphs">Bargarh</text>
<text x="238.36" y="160.06" class="t" text-anchor="middle" style="font-size:2.75px" textLength="7.41" lengthAdjust="spacingAndGlyphs">Bolangir</text>
<text x="225.43" y="157.91" class="t" text-anchor="middle" style="font-size:2.75px" textLength="6.49" lengthAdjust="spacingAndGlyphs">Nuapada</text>
<text x="236.2" y="175.07" class="t" text-anchor="middle" style="font-size:2.75px" textLength="8.34" lengthAdjust="spacingAndGlyphs">Kalahandi</text>
<text x="243.75" y="187.94" class="t" text-anchor="middle" style="font-size:2.75px" textLength="7.41" lengthAdjust="spacingAndGlyphs">Rayagada</text>
<text x="220.04" y="179.36" class="t" text-anchor="middle" style="font-size:2.75px" textLength="10.19" lengthAdjust="spacingAndGlyphs">Nabarangpur</text>
<text x="228.66" y="198.67" class="t" text-anchor="middle" style="font-size:2.75px" textLength="6.49" lengthAdjust="spacingAndGlyphs">Koraput</text>
<text x="211.42" y="210.47" class="t" text-anchor="middle" style="font-size:2.75px" textLength="9.27" lengthAdjust="spacingAndGlyphs">Malkangiri</text>
<line x1="212.5" y1="111.9" x2="212.5" y2="221.6" class="g"/>
<line x1="234.05" y1="111.9" x2="234.05" y2="221.6" class="g"/>
<line x1="255.6" y1="111.9" x2="255.6" y2="221.6" class="g"/>
<line x1="277.15" y1="111.9" x2="277.15" y2="221.6" class="g"/>
<line x1="298.7" y1="111.9" x2="298.7" y2="221.6" class="g"/>
<line x1="320.25" y1="111.9" x2="320.25" y2="221.6" class="g"/>
<line x1="341.8" y1="111.9" x2="341.8" y2="221.6" class="g"/>
<line x1="196.2" y1="216" x2="348.3" y2="216" class="g"/>
<line x1="196.2" y1="194.55" x2="348.3" y2="194.55" class="g"/>
<line x1="196.2" y1="173.1" x2="348.3" y2="173.1" class="g"/>
<line x1="196.2" y1="151.65" x2="348.3" y2="151.65" class="g"/>
<line x1="196.2" y1="130.2" x2="348.3" y2="130.2" class="g"/>
<circle cx="271" cy="121.6" r="1.16" fill="#f8c0a8" opacity="0.55"/>
<circle cx="266.4" cy="124.6" r="1.02" fill="#f8c0a8" opacity="0.55"/>
<circle cx="274.4" cy="124.6" r="1.43" fill="#f8c0a8" opacity="0.55"/>
<circle cx="289.3" cy="138.7" r="3.32" fill="#f8c0a8" opacity="0.55"/>
<circle cx="289.3" cy="148.6" r="1.7" fill="#f8c0a8" opacity="0.55"/>
<circle cx="296.1" cy="143.3" r="1.16" fill="#f8c0a8" opacity="0.55"/>
<circle cx="300.7" cy="122.3" r="1.16" fill="#f8c0a8" opacity="0.55"/>
<circle cx="303" cy="123.4" r="1.02" fill="#f8c0a8" opacity="0.55"/>
<circle cx="304.1" cy="128" r="1.16" fill="#f8c0a8" opacity="0.55"/>
<circle cx="309.9" cy="128" r="1.29" fill="#f8c0a8" opacity="0.55"/>
<circle cx="312.1" cy="126.2" r="1.29" fill="#f8c0a8" opacity="0.55"/>
<circle cx="314.4" cy="123.4" r="1.02" fill="#f8c0a8" opacity="0.55"/>
<circle cx="317.9" cy="126.2" r="1.16" fill="#f8c0a8" opacity="0.55"/>
<circle cx="315.6" cy="130.7" r="1.02" fill="#f8c0a8" opacity="0.55"/>
<circle cx="321.3" cy="134.4" r="1.02" fill="#f8c0a8" opacity="0.55"/>
<circle cx="299.6" cy="133" r="1.02" fill="#f8c0a8" opacity="0.55"/>
<circle cx="304.1" cy="142.9" r="1.16" fill="#f8c0a8" opacity="0.55"/>
<circle cx="303" cy="150.9" r="1.7" fill="#f8c0a8" opacity="0.55"/>
<circle cx="305.3" cy="154.7" r="1.16" fill="#f8c0a8" opacity="0.55"/>
<circle cx="284.7" cy="169.1" r="1.02" fill="#f8c0a8" opacity="0.55"/>
<circle cx="293.9" cy="166.9" r="1.02" fill="#f8c0a8" opacity="0.55"/>
<circle cx="293" cy="167" r="1.16" fill="#f8c0a8" opacity="0.55"/>
<circle cx="285" cy="169.4" r="1.02" fill="#f8c0a8" opacity="0.55"/>
<circle cx="293" cy="171.6" r="1.56" fill="#f8c0a8" opacity="0.55"/>
<circle cx="290" cy="174" r="1.43" fill="#f8c0a8" opacity="0.55"/>
<circle cx="291" cy="176" r="1.29" fill="#f8c0a8" opacity="0.55"/>
<circle cx="295" cy="177" r="1.7" fill="#f8c0a8" opacity="0.55"/>
<circle cx="289" cy="176.6" r="1.16" fill="#f8c0a8" opacity="0.55"/>
<circle cx="302.6" cy="175" r="1.02" fill="#f8c0a8" opacity="0.55"/>
<circle cx="276.6" cy="180.6" r="1.7" fill="#f8c0a8" opacity="0.55"/>
<circle cx="209" cy="208.1" r="2.1" fill="#f8c0a8" opacity="0.55"/>
<circle cx="211.2" cy="206.6" r="2.1" fill="#f8c0a8" opacity="0.55"/>
<circle cx="212.7" cy="207.4" r="1.7" fill="#f8c0a8" opacity="0.55"/>
<circle cx="209.7" cy="210.3" r="1.7" fill="#f8c0a8" opacity="0.55"/>
<circle cx="213.4" cy="209.9" r="1.56" fill="#f8c0a8" opacity="0.55"/>
<circle cx="206.8" cy="211.8" r="1.16" fill="#f8c0a8" opacity="0.55"/>
<circle cx="206.8" cy="214.7" r="1.02" fill="#f8c0a8" opacity="0.55"/>
<circle cx="224.5" cy="190" r="1.56" fill="#f8c0a8" opacity="0.55"/>
<circle cx="227.4" cy="198.5" r="1.02" fill="#f8c0a8" opacity="0.55"/>
<circle cx="243.7" cy="181.5" r="1.02" fill="#f8c0a8" opacity="0.55"/>
<circle cx="242.2" cy="191.1" r="1.02" fill="#f8c0a8" opacity="0.55"/>
<circle cx="223.8" cy="155.7" r="1.02" fill="#f8c0a8" opacity="0.55"/>
<circle cx="289.3" cy="138.7" r="2.2" fill="#f45a22" fill-opacity="0.85" stroke="#d8400e" stroke-width="0.3"/>
<circle cx="209" cy="208.1" r="1.3" fill="#f45a22" fill-opacity="0.85" stroke="#d8400e" stroke-width="0.3"/>
<circle cx="211.2" cy="206.6" r="1.3" fill="#f45a22" fill-opacity="0.85" stroke="#d8400e" stroke-width="0.3"/>
<circle cx="289.3" cy="148.6" r="1" fill="#f45a22" fill-opacity="0.85" stroke="#d8400e" stroke-width="0.3"/>
<circle cx="303" cy="150.9" r="1" fill="#f45a22" fill-opacity="0.85" stroke="#d8400e" stroke-width="0.3"/>
<circle cx="295" cy="177" r="1" fill="#f45a22" fill-opacity="0.85" stroke="#d8400e" stroke-width="0.3"/>
<circle cx="276.6" cy="180.6" r="1" fill="#f45a22" fill-opacity="0.85" stroke="#d8400e" stroke-width="0.3"/>
<circle cx="212.7" cy="207.4" r="1" fill="#f45a22" fill-opacity="0.85" stroke="#d8400e" stroke-width="0.3"/>
<circle cx="209.7" cy="210.3" r="1" fill="#f45a22" fill-opacity="0.85" stroke="#d8400e" stroke-width="0.3"/>
<circle cx="293" cy="171.6" r="0.9" fill="#f45a22" fill-opacity="0.85" stroke="#d8400e" stroke-width="0.3"/>
<circle cx="213.4" cy="209.9" r="0.9" fill="#f45a22" fill-opacity="0.85" stroke="#d8400e" stroke-width="0.3"/>
<circle cx="224.5" cy="190" r="0.9" fill="#f45a22" fill-opacity="0.85" stroke="#d8400e" stroke-width="0.3"/>
<circle cx="274.4" cy="124.6" r="0.8" fill="#f45a22" fill-opacity="0.85" stroke="#d8400e" stroke-width="0.3"/>
<circle cx="290" cy="174" r="0.8" fill="#f45a22" fill-opacity="0.85" stroke="#d8400e" stroke-width="0.3"/>
<circle cx="309.9" cy="128" r="0.7" fill="#f45a22" fill-opacity="0.85" stroke="#d8400e" stroke-width="0.3"/>
<circle cx="312.1" cy="126.2" r="0.7" fill="#f45a22" fill-opacity="0.85" stroke="#d8400e" stroke-width="0.3"/>
<circle cx="291" cy="176" r="0.7" fill="#f45a22" fill-opacity="0.85" stroke="#d8400e" stroke-width="0.3"/>
<circle cx="271" cy="121.6" r="0.6" fill="#f45a22" fill-opacity="0.85" stroke="#d8400e" stroke-width="0.3"/>
<circle cx="296.1" cy="143.3" r="0.6" fill="#f45a22" fill-opacity="0.85" stroke="#d8400e" stroke-width="0.3"/>
<circle cx="300.7" cy="122.3" r="0.6" fill="#f45a22" fill-opacity="0.85" stroke="#d8400e" stroke-width="0.3"/>
<circle cx="304.1" cy="128" r="0.6" fill="#f45a22" fill-opacity="0.85" stroke="#d8400e" stroke-width="0.3"/>
<circle cx="317.9" cy="126.2" r="0.6" fill="#f45a22" fill-opacity="0.85" stroke="#d8400e" stroke-width="0.3"/>
<circle cx="304.1" cy="142.9" r="0.6" fill="#f45a22" fill-opacity="0.85" stroke="#d8400e" stroke-width="0.3"/>
<circle cx="305.3" cy="154.7" r="0.6" fill="#f45a22" fill-opacity="0.85" stroke="#d8400e" stroke-width="0.3"/>
<circle cx="293" cy="167" r="0.6" fill="#f45a22" fill-opacity="0.85" stroke="#d8400e" stroke-width="0.3"/>
<circle cx="289" cy="176.6" r="0.6" fill="#f45a22" fill-opacity="0.85" stroke="#d8400e" stroke-width="0.3"/>
<circle cx="206.8" cy="211.8" r="0.6" fill="#f45a22" fill-opacity="0.85" stroke="#d8400e" stroke-width="0.3"/>
<circle cx="266.4" cy="124.6" r="0.5" fill="#f45a22" fill-opacity="0.85" stroke="#d8400e" stroke-width="0.3"/>
<circle cx="303" cy="123.4" r="0.5" fill="#f45a22" fill-opacity="0.85" stroke="#d8400e" stroke-width="0.3"/>
<circle cx="314.4" cy="123.4" r="0.5" fill="#f45a22" fill-opacity="0.85" stroke="#d8400e" stroke-width="0.3"/>
<circle cx="315.6" cy="130.7" r="0.5" fill="#f45a22" fill-opacity="0.85" stroke="#d8400e" stroke-width="0.3"/>
<circle cx="321.3" cy="134.4" r="0.5" fill="#f45a22" fill-opacity="0.85" stroke="#d8400e" stroke-width="0.3"/>
<circle cx="299.6" cy="133" r="0.5" fill="#f45a22" fill-opacity="0.85" stroke="#d8400e" stroke-width="0.3"/>
<circle cx="284.7" cy="169.1" r="0.5" fill="#f45a22" fill-opacity="0.85" stroke="#d8400e" stroke-width="0.3"/>
<circle cx="293.9" cy="166.9" r="0.5" fill="#f45a22" fill-opacity="0.85" stroke="#d8400e" stroke-width="0.3"/>
<circle cx="285" cy="169.4" r="0.5" fill="#f45a22" fill-opacity="0.85" stroke="#d8400e" stroke-width="0.3"/>
<circle cx="302.6" cy="175" r="0.5" fill="#f45a22" fill-opacity="0.85" stroke="#d8400e" stroke-width="0.3"/>
<circle cx="206.8" cy="214.7" r="0.5" fill="#f45a22" fill-opacity="0.85" stroke="#d8400e" stroke-width="0.3"/>
<circle cx="227.4" cy="198.5" r="0.5" fill="#f45a22" fill-opacity="0.85" stroke="#d8400e" stroke-width="0.3"/>
<circle cx="243.7" cy="181.5" r="0.5" fill="#f45a22" fill-opacity="0.85" stroke="#d8400e" stroke-width="0.3"/>
<circle cx="242.2" cy="191.1" r="0.5" fill="#f45a22" fill-opacity="0.85" stroke="#d8400e" stroke-width="0.3"/>
<circle cx="223.8" cy="155.7" r="0.5" fill="#f45a22" fill-opacity="0.85" stroke="#d8400e" stroke-width="0.3"/>
<line x1="196.2" y1="111.9" x2="196.2" y2="221.6" stroke="#ececec" stroke-width="0.6"/>
<line x1="192" y1="111.5" x2="348.3" y2="111.5" stroke="#bababa" stroke-width="1"/>
<line x1="192" y1="221.5" x2="348.3" y2="221.5" stroke="#ececec" stroke-width="1"/>
<line x1="192.5" y1="111.4" x2="192.5" y2="222.1" stroke="#bababa" stroke-width="1"/>
<line x1="348.5" y1="111.4" x2="348.5" y2="222.1" stroke="#bababa" stroke-width="1"/>
<text x="212.5" y="221.9" class="a" text-anchor="middle" style="font-size:2.75px" textLength="5.6" lengthAdjust="spacingAndGlyphs">82°0'E</text>
<text x="234.05" y="221.9" class="a" text-anchor="middle" style="font-size:2.75px" textLength="5.6" lengthAdjust="spacingAndGlyphs">83°0'E</text>
<text x="255.6" y="221.9" class="a" text-anchor="middle" style="font-size:2.75px" textLength="5.6" lengthAdjust="spacingAndGlyphs">84°0'E</text>
<text x="277.15" y="221.9" class="a" text-anchor="middle" style="font-size:2.75px" textLength="5.6" lengthAdjust="spacingAndGlyphs">85°0'E</text>
<text x="298.7" y="221.9" class="a" text-anchor="middle" style="font-size:2.75px" textLength="5.6" lengthAdjust="spacingAndGlyphs">86°0'E</text>
<text x="320.25" y="221.9" class="a" text-anchor="middle" style="font-size:2.75px" textLength="5.6" lengthAdjust="spacingAndGlyphs">87°0'E</text>
<text x="341.8" y="221.9" class="a" text-anchor="middle" style="font-size:2.75px" textLength="5.6" lengthAdjust="spacingAndGlyphs">88°0'E</text>
<text x="193.8" y="216" class="a" text-anchor="middle" style="font-size:2.75px" textLength="5.4" lengthAdjust="spacingAndGlyphs" dy="0.95" transform="rotate(-90 193.8 216)">18°0'N</text>
<text x="193.8" y="194.55" class="a" text-anchor="middle" style="font-size:2.75px" textLength="5.4" lengthAdjust="spacingAndGlyphs" dy="0.95" transform="rotate(-90 193.8 194.55)">19°0'N</text>
<text x="193.8" y="173.1" class="a" text-anchor="middle" style="font-size:2.75px" textLength="5.4" lengthAdjust="spacingAndGlyphs" dy="0.95" transform="rotate(-90 193.8 173.1)">20°0'N</text>
<text x="193.8" y="151.65" class="a" text-anchor="middle" style="font-size:2.75px" textLength="5.4" lengthAdjust="spacingAndGlyphs" dy="0.95" transform="rotate(-90 193.8 151.65)">21°0'N</text>
<text x="193.8" y="130.2" class="a" text-anchor="middle" style="font-size:2.75px" textLength="5.4" lengthAdjust="spacingAndGlyphs" dy="0.95" transform="rotate(-90 193.8 130.2)">22°0'N</text>
<text x="336.5" y="121.1" class="n" text-anchor="middle">N</text>
<path d="M336.5,122.8 L335.4,129.6 L337.6,129.6Z" fill="#111"/>
<rect x="246.1" y="211.3" width="15.5" height="1.7" fill="#111"/>
<rect x="261.6" y="211.5" width="14.5" height="1.3" fill="#fff" stroke="#777" stroke-width="0.4"/>
<text x="246.1" y="210.3" class="s" text-anchor="middle" style="font-size:2.75px" textLength="0.9" lengthAdjust="spacingAndGlyphs">0</text>
<text x="261.6" y="210.3" class="s" text-anchor="middle" style="font-size:2.75px" textLength="1.9" lengthAdjust="spacingAndGlyphs">75</text>
<text x="274.6" y="210.3" class="s" style="font-size:2.75px" textLength="5.6" lengthAdjust="spacingAndGlyphs">150 km</text>
<rect x="312.1" y="177.5" width="27.8" height="33.1" fill="#fff" stroke="#a8a8a8" stroke-width="0.7"/>
<text x="313.2" y="181.7" class="lt" style="font-size:3px" textLength="24.8" lengthAdjust="spacingAndGlyphs">Suspected Cases</text>
<text x="313.2" y="185.55" class="ls" style="font-size:2.75px" textLength="19.5" lengthAdjust="spacingAndGlyphs">Viral Encephalitis</text>
<circle cx="314.5" cy="187.7" r="0.45" fill="#f45a22" stroke="#d8400e" stroke-width="0.3"/>
<text x="318.4" y="188.6" class="ls" style="font-size:2.75px" textLength="4.07" lengthAdjust="spacingAndGlyphs">&lt;10</text>
<circle cx="314.5" cy="191.5" r="1" fill="#f45a22" stroke="#d8400e" stroke-width="0.3"/>
<text x="318.4" y="192.4" class="ls" style="font-size:2.75px" textLength="7.47" lengthAdjust="spacingAndGlyphs">10 - 50</text>
<circle cx="314.5" cy="195.7" r="1.5" fill="#f45a22" stroke="#d8400e" stroke-width="0.3"/>
<text x="318.4" y="196.6" class="ls" style="font-size:2.75px" textLength="8.81" lengthAdjust="spacingAndGlyphs">50 - 100</text>
<circle cx="314.5" cy="200.8" r="2.15" fill="#f45a22" stroke="#d8400e" stroke-width="0.3"/>
<text x="318.4" y="201.7" class="ls" style="font-size:2.75px" textLength="5.41" lengthAdjust="spacingAndGlyphs">&gt;100</text>
<text x="313.2" y="206.35" class="ls" style="font-size:2.75px" textLength="7.6" lengthAdjust="spacingAndGlyphs">Odisha</text>
<rect x="312.9" y="208" width="3.2" height="1.8" fill="#e1e3f4" stroke="#aab" stroke-width="0.2"/>
<text x="317.1" y="209.8" class="ls" style="font-size:2.75px" textLength="7.6" lengthAdjust="spacingAndGlyphs">Odisha</text>
</g>
<g id="p5">
<path d="M43.95,257.86 L42.92,254.94 L44.12,252.71 L46.34,250.47 L48.73,248.07 L50.96,245.83 L53.18,245.83 L56.6,247.55 L58.82,247.21 L63.44,246.18 L69.77,246.18 L71.48,252.02 L74.38,252.71 L81.22,253.05 L84.99,252.36 L85.5,245.49 L88.07,246.01 L92.34,247.72 L99.18,251.5 L105.17,255.45 L109.1,257.86 L110.47,259.58 L107.73,262.5 L105.85,264.39 L103.97,266.28 L102.09,268.85 L100.89,271.26 L100.89,274.52 L101.4,276.93 L102.09,278.99 L100.21,281.4 L98.67,281.57 L96.96,283.46 L94.22,286.21 L91.48,288.1 L87.89,290.33 L84.3,292.56 L80.71,293.94 L76.95,295.31 L73.36,296.69 L70.62,297.72 L69.6,300.29 L66.18,302.01 L62.76,303.73 L59.34,305.45 L57.11,307.68 L54.72,308.88 L51.3,309.4 L49.08,308.37 L46.85,306.48 L44.63,305.45 L42.41,306.48 L38.99,308.37 L34.71,308.2 L30.1,309.4 L26.68,311.8 L24.8,314.04 L23.08,316.44 L19.49,320.05 L14.88,322.46 L10.26,324.69 L6.16,326.41 L6.67,324.69 L9.06,321.25 L12.65,317.65 L16.07,314.04 L19.49,310.6 L21.38,305.79 L20.69,302.36 L18.47,297.55 L14.88,291.7 L14.36,289.3 L14.53,288.44 L21.55,289.64 L29.41,289.3 L23.94,287.92 L23.6,286.72 L23.26,283.8 L22.91,281.22 L22.57,277.44 L22.23,274.01 L23.6,273.49 L25.82,271.6 L27.53,269.37 L30.27,268.34 L34.88,268.34 L38.13,267.14 L39.33,264.39 L41.21,261.64Z" class="m"/>
<path d="M100.97,274.9 L98.75,274.79 L96.58,274.17 L94.41,273.69 L92.15,273.91 M101.75,269.54 L99.98,268.23 L97.95,267.26 L96.69,265.27 L94.43,264.61 L92.95,262.92 M92.15,273.91 L91.78,271.81 L91.14,269.8 L90.02,267.92 L90.13,265.68 L89.12,263.77 M92.95,262.92 L89.12,263.77 M96.07,284.35 L94.05,283.21 L92.61,281.39 L90.57,280.26 L89.17,278.41 M89.17,278.41 L90.4,275.98 L92.15,273.91 M102.28,253.55 L100.75,255.14 L99.05,256.56 L97.52,258.14 L95.97,259.7 L94.86,261.71 L92.95,262.92 M20.22,308.74 L21.69,310.66 L23.29,312.49 L24.31,314.72 M88.69,289.83 L87.42,288.11 L85.51,286.94 L84.48,285 M89.17,278.41 L88.49,278.56 M84.48,285 L85.42,282.61 L87.41,280.87 L88.49,278.56 M48.88,247.92 L49.83,249.83 L51.4,251.29 L52.74,252.91 L53.53,254.95 L54.88,256.56 L56.43,258.03 M43.18,258.92 L44.96,261.18 L47.11,263.09 M47.11,263.09 L48.79,261.75 L50.66,260.74 L52.55,259.77 L54.68,259.26 L56.43,258.03 M75.49,266.39 L78.37,266.2 L81.21,266.69 M75.49,266.39 L73.46,265.02 L71.68,263.33 M71.68,263.33 L71.09,260.98 L70.7,258.58 L70.52,256.14 L69.74,253.83 L69.06,251.49 M87.13,263.2 L85.34,264.67 L83.01,265.23 L81.21,266.69 M87.13,263.2 L86.69,261.03 L85.84,258.96 L85.74,256.7 L85.41,254.5 L84.46,252.46 M70.2,247.64 L69.06,251.49 M89.12,263.77 L87.13,263.2 M88.49,278.56 L86.41,277.6 L84.58,276.23 L82.7,274.93 M82.7,274.93 L82.47,272.84 L82.26,270.75 L82,268.68 L81.21,266.69 M56.43,258.03 L57.8,258.44 M57.8,258.44 L59.77,257.43 L61.61,256.21 L63.39,254.9 L65.31,253.8 L67.15,252.6 L69.06,251.49 M74.57,280.71 L74,282.76 L73.6,284.83 L73.59,286.94 L73.52,289.04 L72.91,291.09 L72.88,293.2 L72.96,295.32 M74.57,280.71 L76.95,280.71 M76.95,280.71 L78.97,281.98 L80.64,283.73 L82.65,285 M82.65,285 L81.75,287.02 L80.57,288.86 L79.26,290.6 L77.43,292 L76.24,293.82 L75.42,295.9 M73.8,296.52 L72.96,295.32 M82.7,274.93 L80.59,276.66 L78.82,278.73 L76.95,280.71 M71.16,278.34 L73.1,279.18 L74.57,280.71 M71.16,278.34 L72.21,276.46 L72.53,274.33 L73.44,272.41 L74.22,270.43 L74.59,268.32 L75.49,266.39 M84.48,285 L82.65,285 M60.92,304.65 L59.99,302.34 L57.9,300.8 L57.09,298.4 L55.39,296.6 L54.17,294.48 M72.96,295.32 L71.26,294.07 L69.41,293.08 L67.36,292.39 L65.57,291.29 L64.24,289.44 L62.23,288.69 M54.17,294.48 L56.38,293.3 L58.26,291.67 L59.98,289.81 L62.23,288.69 M23.24,283.65 L25.59,284.02 L27.85,284.8 M20.82,303 L22.95,302.07 L25.17,301.35 L27.09,299.96 L29.25,299.09 L31.42,298.27 M31.42,298.27 L30.83,296.03 L30.2,293.8 L30,291.46 L29.05,289.31 M29.02,289.2 L28.2,287.06 L27.85,284.8 M65.23,279.04 L64.27,281.14 L62.57,282.69 M65.23,279.04 L64.08,277.21 L63.5,275.12 L62.22,273.36 L61.47,271.34 L60.76,269.31 M62.57,282.69 L60.41,282.2 L58.47,280.96 L56.36,280.3 L54,280.47 L51.99,279.5 M51.99,279.5 L53.13,277.27 L53.78,274.88 L54.42,272.48 L55.11,270.1 M55.11,270.1 L57.38,269.41 L59.69,268.87 M60.76,269.31 L59.69,268.87 M71.16,278.34 L68.23,278.93 L65.23,279.04 M62.23,288.69 L62.52,285.7 L62.57,282.69 M71.68,263.33 L69.79,264.2 L68.09,265.41 L66.17,266.23 L64.46,267.43 L62.66,268.46 L60.76,269.31 M47.9,267.08 L50.42,267.81 L52.84,268.77 L55.11,270.1 M47.11,263.09 L47.9,267.08 M57.8,258.44 L58.3,260.51 L58.63,262.6 L58.95,264.69 L58.81,266.87 L59.69,268.87 M50.37,294.13 L48.53,291.83 L46.02,290.28 M50.37,294.13 L49.35,296.01 L48.87,298.1 L47.7,299.91 L47.41,302.07 L46.19,303.87 L45.83,306 M46.02,290.28 L44.2,291.75 L42.22,292.95 L39.89,293.54 L37.9,294.72 L36.04,296.12 L34.18,297.53 L32.05,298.47 M39.06,308.33 L37.47,306.49 L36.66,304.1 L34.45,302.7 L33.26,300.58 L32.05,298.47 M54.17,294.48 L50.37,294.13 M31.42,298.27 L32.05,298.47 M45.57,282.47 L44.8,280.07 L43.87,277.71 L43.88,275.08 L42.81,272.77 M45.57,282.47 L44.7,284.42 M44.7,284.42 L42.51,283.98 L40.25,284.07 L38.06,283.65 L35.85,283.37 L33.69,282.78 L31.48,282.53 M31.48,282.53 L31.71,280.41 L31.92,278.28 L32.24,276.17 L33.09,274.15 L33.02,271.98 L33.57,269.91 M33.57,269.91 L35.9,270.56 L38.34,270.85 L40.41,272.35 L42.81,272.77 M51.99,279.5 L50.04,280.91 L47.72,281.5 L45.57,282.47 M47.9,267.08 L45.86,268.66 L44.52,270.88 L42.81,272.77 M46.02,290.28 L44.94,287.45 L44.7,284.42 M27.85,284.8 L29.71,283.74 L31.48,282.53 M32.5,268.34 L33.57,269.91" class="d"/>
<text x="57.28" y="252.92" class="t" text-anchor="middle" style="font-size:2.75px" textLength="7.35" lengthAdjust="spacingAndGlyphs">Sundargarh</text>
<text x="50.45" y="258.07" class="t" text-anchor="middle" style="font-size:2.75px" textLength="7.35" lengthAdjust="spacingAndGlyphs">Jharsuguda</text>
<text x="53.87" y="264.43" class="t" text-anchor="middle" style="font-size:2.75px" textLength="6.62" lengthAdjust="spacingAndGlyphs">Sambalpur</text>
<text x="63.27" y="262.71" class="t" text-anchor="middle" style="font-size:2.75px" textLength="5.15" lengthAdjust="spacingAndGlyphs">Deogarh</text>
<text x="78.66" y="259.27" class="t" text-anchor="middle" style="font-size:2.75px" textLength="5.88" lengthAdjust="spacingAndGlyphs">Keonjhar</text>
<text x="92.34" y="255.84" class="t" text-anchor="middle" style="font-size:2.75px" textLength="7.35" lengthAdjust="spacingAndGlyphs">Mayurbhanj</text>
<text x="100.89" y="264.43" class="t" text-anchor="middle" style="font-size:2.75px" textLength="5.88" lengthAdjust="spacingAndGlyphs">Balasore</text>
<text x="95.76" y="271.3" class="t" text-anchor="middle" style="font-size:2.75px" textLength="5.15" lengthAdjust="spacingAndGlyphs">Bhadrak</text>
<text x="87.21" y="273.88" class="t" text-anchor="middle" style="font-size:2.75px" textLength="4.41" lengthAdjust="spacingAndGlyphs">Jajpur</text>
<text x="94.9" y="279.03" class="t" text-anchor="middle" style="font-size:2.75px" textLength="7.35" lengthAdjust="spacingAndGlyphs">Kendrapara</text>
<text x="89.78" y="285.04" class="t" text-anchor="middle" style="font-size:2.75px" textLength="9.56" lengthAdjust="spacingAndGlyphs">Jagatsinghpur</text>
<text x="82.93" y="280.75" class="t" text-anchor="middle" style="font-size:2.75px" textLength="5.15" lengthAdjust="spacingAndGlyphs">Cuttack</text>
<text x="77.8" y="275.6" class="t" text-anchor="middle" style="font-size:2.75px" textLength="6.62" lengthAdjust="spacingAndGlyphs">Dhenkanal</text>
<text x="68.4" y="272.16" class="t" text-anchor="middle" style="font-size:2.75px" textLength="3.68" lengthAdjust="spacingAndGlyphs">Angul</text>
<text x="77.8" y="287.62" class="t" text-anchor="middle" style="font-size:2.75px" textLength="5.15" lengthAdjust="spacingAndGlyphs">Khordha</text>
<text x="82.93" y="291.06" class="t" text-anchor="middle" style="font-size:2.75px" textLength="2.94" lengthAdjust="spacingAndGlyphs">Puri</text>
<text x="70.11" y="286.76" class="t" text-anchor="middle" style="font-size:2.75px" textLength="5.88" lengthAdjust="spacingAndGlyphs">Nayagarh</text>
<text x="63.27" y="297.93" class="t" text-anchor="middle" style="font-size:2.75px" textLength="4.41" lengthAdjust="spacingAndGlyphs">Ganjam</text>
<text x="53.01" y="304.8" class="t" text-anchor="middle" style="font-size:2.75px" textLength="5.88" lengthAdjust="spacingAndGlyphs">Gajapati</text>
<text x="54.72" y="285.9" class="t" text-anchor="middle" style="font-size:2.75px" textLength="6.62" lengthAdjust="spacingAndGlyphs">Kandhamal</text>
<text x="57.28" y="277.31" class="t" text-anchor="middle" style="font-size:2.75px" textLength="3.68" lengthAdjust="spacingAndGlyphs">Boudh</text>
<text x="49.59" y="274.74" class="t" text-anchor="middle" style="font-size:2.75px" textLength="5.15" lengthAdjust="spacingAndGlyphs">Sonepur</text>
<text x="41.04" y="267.01" class="t" text-anchor="middle" style="font-size:2.75px" textLength="5.15" lengthAdjust="spacingAndGlyphs">Bargarh</text>
<text x="37.62" y="278.17" class="t" text-anchor="middle" style="font-size:2.75px" textLength="5.88" lengthAdjust="spacingAndGlyphs">Bolangir</text>
<text x="27.36" y="276.45" class="t" text-anchor="middle" style="font-size:2.75px" textLength="5.15" lengthAdjust="spacingAndGlyphs">Nuapada</text>
<text x="35.91" y="290.2" class="t" text-anchor="middle" style="font-size:2.75px" textLength="6.62" lengthAdjust="spacingAndGlyphs">Kalahandi</text>
<text x="41.9" y="300.51" class="t" text-anchor="middle" style="font-size:2.75px" textLength="5.88" lengthAdjust="spacingAndGlyphs">Rayagada</text>
<text x="23.08" y="293.63" class="t" text-anchor="middle" style="font-size:2.75px" textLength="8.09" lengthAdjust="spacingAndGlyphs">Nabarangpur</text>
<text x="29.93" y="309.1" class="t" text-anchor="middle" style="font-size:2.75px" textLength="5.15" lengthAdjust="spacingAndGlyphs">Koraput</text>
<text x="16.25" y="318.55" class="t" text-anchor="middle" style="font-size:2.75px" textLength="7.35" lengthAdjust="spacingAndGlyphs">Malkangiri</text>
<line x1="17.1" y1="225" x2="17.1" y2="331.5" class="g"/>
<line x1="34.2" y1="225" x2="34.2" y2="331.5" class="g"/>
<line x1="51.3" y1="225" x2="51.3" y2="331.5" class="g"/>
<line x1="68.4" y1="225" x2="68.4" y2="331.5" class="g"/>
<line x1="85.5" y1="225" x2="85.5" y2="331.5" class="g"/>
<line x1="102.6" y1="225" x2="102.6" y2="331.5" class="g"/>
<line x1="119.7" y1="225" x2="119.7" y2="331.5" class="g"/>
<line x1="136.8" y1="225" x2="136.8" y2="331.5" class="g"/>
<line x1="153.9" y1="225" x2="153.9" y2="331.5" class="g"/>
<line x1="5.9" y1="322.8" x2="155.2" y2="322.8" class="g"/>
<line x1="5.9" y1="305.62" x2="155.2" y2="305.62" class="g"/>
<line x1="5.9" y1="288.44" x2="155.2" y2="288.44" class="g"/>
<line x1="5.9" y1="271.26" x2="155.2" y2="271.26" class="g"/>
<line x1="5.9" y1="254.08" x2="155.2" y2="254.08" class="g"/>
<line x1="5.9" y1="236.9" x2="155.2" y2="236.9" class="g"/>
<circle cx="78.1" cy="260.8" r="2.24" fill="#d4b0e4" opacity="0.55"/>
<circle cx="98.7" cy="255.6" r="1.02" fill="#d4b0e4" opacity="0.55"/>
<circle cx="78.7" cy="277.2" r="1.43" fill="#d4b0e4" opacity="0.55"/>
<circle cx="89.3" cy="279.3" r="2.1" fill="#d4b0e4" opacity="0.55"/>
<circle cx="91" cy="274.7" r="1.16" fill="#d4b0e4" opacity="0.55"/>
<circle cx="93.1" cy="280.1" r="1.02" fill="#d4b0e4" opacity="0.55"/>
<circle cx="58.4" cy="281" r="1.02" fill="#d4b0e4" opacity="0.55"/>
<circle cx="60.1" cy="282.7" r="0.89" fill="#d4b0e4" opacity="0.55"/>
<circle cx="82.4" cy="289.9" r="2.1" fill="#d4b0e4" opacity="0.55"/>
<circle cx="66.1" cy="296.4" r="2.38" fill="#d4b0e4" opacity="0.55"/>
<circle cx="68.7" cy="299.5" r="2.1" fill="#d4b0e4" opacity="0.55"/>
<circle cx="61" cy="299.5" r="1.97" fill="#d4b0e4" opacity="0.55"/>
<circle cx="42.3" cy="277.3" r="1.29" fill="#d4b0e4" opacity="0.55"/>
<circle cx="59" cy="281.4" r="0.89" fill="#d4b0e4" opacity="0.55"/>
<circle cx="35.4" cy="303.1" r="1.97" fill="#d4b0e4" opacity="0.55"/>
<circle cx="41.1" cy="303.1" r="1.97" fill="#d4b0e4" opacity="0.55"/>
<circle cx="61.3" cy="299.3" r="1.97" fill="#d4b0e4" opacity="0.55"/>
<circle cx="66.3" cy="297" r="2.24" fill="#d4b0e4" opacity="0.55"/>
<circle cx="66.1" cy="296.4" r="1.5" fill="#a23cc8" fill-opacity="0.85" stroke="#7a2a9c" stroke-width="0.3"/>
<circle cx="78.1" cy="260.8" r="1.4" fill="#a23cc8" fill-opacity="0.85" stroke="#7a2a9c" stroke-width="0.3"/>
<circle cx="66.3" cy="297" r="1.4" fill="#a23cc8" fill-opacity="0.85" stroke="#7a2a9c" stroke-width="0.3"/>
<circle cx="89.3" cy="279.3" r="1.3" fill="#a23cc8" fill-opacity="0.85" stroke="#7a2a9c" stroke-width="0.3"/>
<circle cx="82.4" cy="289.9" r="1.3" fill="#a23cc8" fill-opacity="0.85" stroke="#7a2a9c" stroke-width="0.3"/>
<circle cx="68.7" cy="299.5" r="1.3" fill="#a23cc8" fill-opacity="0.85" stroke="#7a2a9c" stroke-width="0.3"/>
<circle cx="61" cy="299.5" r="1.2" fill="#a23cc8" fill-opacity="0.85" stroke="#7a2a9c" stroke-width="0.3"/>
<circle cx="35.4" cy="303.1" r="1.2" fill="#a23cc8" fill-opacity="0.85" stroke="#7a2a9c" stroke-width="0.3"/>
<circle cx="41.1" cy="303.1" r="1.2" fill="#a23cc8" fill-opacity="0.85" stroke="#7a2a9c" stroke-width="0.3"/>
<circle cx="61.3" cy="299.3" r="1.2" fill="#a23cc8" fill-opacity="0.85" stroke="#7a2a9c" stroke-width="0.3"/>
<circle cx="78.7" cy="277.2" r="0.8" fill="#a23cc8" fill-opacity="0.85" stroke="#7a2a9c" stroke-width="0.3"/>
<circle cx="42.3" cy="277.3" r="0.7" fill="#a23cc8" fill-opacity="0.85" stroke="#7a2a9c" stroke-width="0.3"/>
<circle cx="91" cy="274.7" r="0.6" fill="#a23cc8" fill-opacity="0.85" stroke="#7a2a9c" stroke-width="0.3"/>
<circle cx="98.7" cy="255.6" r="0.5" fill="#a23cc8" fill-opacity="0.85" stroke="#7a2a9c" stroke-width="0.3"/>
<circle cx="93.1" cy="280.1" r="0.5" fill="#a23cc8" fill-opacity="0.85" stroke="#7a2a9c" stroke-width="0.3"/>
<circle cx="58.4" cy="281" r="0.5" fill="#a23cc8" fill-opacity="0.85" stroke="#7a2a9c" stroke-width="0.3"/>
<circle cx="60.1" cy="282.7" r="0.4" fill="#a23cc8" fill-opacity="0.85" stroke="#7a2a9c" stroke-width="0.3"/>
<circle cx="59" cy="281.4" r="0.4" fill="#a23cc8" fill-opacity="0.85" stroke="#7a2a9c" stroke-width="0.3"/>
<line x1="5.9" y1="225" x2="5.9" y2="331.5" stroke="#ececec" stroke-width="0.6"/>
<line x1="1.7" y1="225.5" x2="155.2" y2="225.5" stroke="#bababa" stroke-width="1"/>
<line x1="1.7" y1="331.5" x2="155.2" y2="331.5" stroke="#bababa" stroke-width="1"/>
<line x1="1.5" y1="224.5" x2="1.5" y2="332" stroke="#bababa" stroke-width="1"/>
<line x1="155.5" y1="224.5" x2="155.5" y2="332" stroke="#bababa" stroke-width="1"/>
<text x="17.1" y="331.8" class="a" text-anchor="middle" style="font-size:2.75px" textLength="5.6" lengthAdjust="spacingAndGlyphs">82°0'E</text>
<text x="34.2" y="331.8" class="a" text-anchor="middle" style="font-size:2.75px" textLength="5.6" lengthAdjust="spacingAndGlyphs">83°0'E</text>
<text x="51.3" y="331.8" class="a" text-anchor="middle" style="font-size:2.75px" textLength="5.6" lengthAdjust="spacingAndGlyphs">84°0'E</text>
<text x="68.4" y="331.8" class="a" text-anchor="middle" style="font-size:2.75px" textLength="5.6" lengthAdjust="spacingAndGlyphs">85°0'E</text>
<text x="85.5" y="331.8" class="a" text-anchor="middle" style="font-size:2.75px" textLength="5.6" lengthAdjust="spacingAndGlyphs">86°0'E</text>
<text x="102.6" y="331.8" class="a" text-anchor="middle" style="font-size:2.75px" textLength="5.6" lengthAdjust="spacingAndGlyphs">87°0'E</text>
<text x="119.7" y="331.8" class="a" text-anchor="middle" style="font-size:2.75px" textLength="5.6" lengthAdjust="spacingAndGlyphs">88°0'E</text>
<text x="136.8" y="331.8" class="a" text-anchor="middle" style="font-size:2.75px" textLength="5.6" lengthAdjust="spacingAndGlyphs">89°0'E</text>
<text x="153.9" y="331.8" class="a" text-anchor="middle" style="font-size:2.75px" textLength="5.6" lengthAdjust="spacingAndGlyphs">90°0'E</text>
<text x="3.5" y="322.8" class="a" text-anchor="middle" style="font-size:2.75px" textLength="5.4" lengthAdjust="spacingAndGlyphs" dy="0.95" transform="rotate(-90 3.5 322.8)">18°0'N</text>
<text x="3.5" y="305.62" class="a" text-anchor="middle" style="font-size:2.75px" textLength="5.4" lengthAdjust="spacingAndGlyphs" dy="0.95" transform="rotate(-90 3.5 305.62)">19°0'N</text>
<text x="3.5" y="288.44" class="a" text-anchor="middle" style="font-size:2.75px" textLength="5.4" lengthAdjust="spacingAndGlyphs" dy="0.95" transform="rotate(-90 3.5 288.44)">20°0'N</text>
<text x="3.5" y="271.26" class="a" text-anchor="middle" style="font-size:2.75px" textLength="5.4" lengthAdjust="spacingAndGlyphs" dy="0.95" transform="rotate(-90 3.5 271.26)">21°0'N</text>
<text x="3.5" y="254.08" class="a" text-anchor="middle" style="font-size:2.75px" textLength="5.4" lengthAdjust="spacingAndGlyphs" dy="0.95" transform="rotate(-90 3.5 254.08)">22°0'N</text>
<text x="3.5" y="236.9" class="a" text-anchor="middle" style="font-size:2.75px" textLength="5.4" lengthAdjust="spacingAndGlyphs" dy="0.95" transform="rotate(-90 3.5 236.9)">23°0'N</text>
<text x="134.6" y="235.6" class="n" text-anchor="middle">N</text>
<path d="M134.6,238.3 L133.05,244.5 L136.15,244.5Z" fill="#111"/>
<rect x="48.5" y="321.1" width="12.1" height="1.8" fill="#111"/>
<rect x="60.6" y="321.3" width="12.1" height="1.4" fill="#fff" stroke="#777" stroke-width="0.4"/>
<text x="48.5" y="320.1" class="s" text-anchor="middle" style="font-size:2.75px" textLength="0.9" lengthAdjust="spacingAndGlyphs">0</text>
<text x="60.6" y="320.1" class="s" text-anchor="middle" style="font-size:2.75px" textLength="1.9" lengthAdjust="spacingAndGlyphs">75</text>
<text x="71.2" y="320.1" class="s" style="font-size:2.75px" textLength="5.6" lengthAdjust="spacingAndGlyphs">150 km</text>
<rect x="124.1" y="262.1" width="26.4" height="34" fill="#fff" stroke="#a8a8a8" stroke-width="0.7"/>
<text x="125.2" y="266.1" class="lt" style="font-size:3px" textLength="23.4" lengthAdjust="spacingAndGlyphs">Suspected Cases</text>
<text x="125.2" y="270.35" class="ls" style="font-size:2.75px" textLength="6.8" lengthAdjust="spacingAndGlyphs">Measles</text>
<circle cx="127.2" cy="272.4" r="0.5" fill="#a23cc8" stroke="#7a2a9c" stroke-width="0.3"/>
<text x="131.8" y="273.3" class="ls" style="font-size:2.75px" textLength="4.5" lengthAdjust="spacingAndGlyphs">&lt;10</text>
<circle cx="127.2" cy="275.7" r="1.1" fill="#a23cc8" stroke="#7a2a9c" stroke-width="0.3"/>
<text x="131.8" y="276.6" class="ls" style="font-size:2.75px" textLength="8.25" lengthAdjust="spacingAndGlyphs">10 - 50</text>
<circle cx="127.2" cy="279.6" r="1.6" fill="#a23cc8" stroke="#7a2a9c" stroke-width="0.3"/>
<text x="131.8" y="280.5" class="ls" style="font-size:2.75px" textLength="9.72" lengthAdjust="spacingAndGlyphs">50 - 100</text>
<circle cx="127.2" cy="285.2" r="2.5" fill="#a23cc8" stroke="#7a2a9c" stroke-width="0.3"/>
<text x="131.8" y="286.1" class="ls" style="font-size:2.75px" textLength="5.97" lengthAdjust="spacingAndGlyphs">&gt;100</text>
<text x="125.2" y="291.25" class="ls" style="font-size:2.75px" textLength="8.4" lengthAdjust="spacingAndGlyphs">Odisha</text>
<rect x="125.6" y="292.4" width="3.2" height="1.8" fill="#e1e3f4" stroke="#aab" stroke-width="0.2"/>
<text x="129.8" y="294.2" class="ls" style="font-size:2.75px" textLength="8.4" lengthAdjust="spacingAndGlyphs">Odisha</text>
</g>
<g id="p6">
<path d="M236.91,260.84 L235.89,257.95 L237.08,255.74 L239.28,253.53 L241.66,251.15 L243.86,248.94 L246.06,248.94 L249.45,250.64 L251.66,250.3 L256.23,249.28 L262.51,249.28 L264.2,255.06 L267.08,255.74 L273.86,256.08 L277.59,255.4 L278.1,248.6 L280.64,249.11 L284.88,250.81 L291.66,254.55 L297.59,258.46 L301.49,260.84 L302.85,262.54 L300.13,265.43 L298.27,267.3 L296.41,269.17 L294.54,271.72 L293.36,274.1 L293.36,277.33 L293.86,279.71 L294.54,281.75 L292.68,284.13 L291.15,284.3 L289.46,286.17 L286.74,288.89 L284.03,290.76 L280.47,292.97 L276.91,295.18 L273.35,296.54 L269.62,297.9 L266.07,299.26 L263.35,300.28 L262.34,302.83 L258.95,304.53 L255.56,306.23 L252.17,307.93 L249.96,310.14 L247.59,311.33 L244.2,311.84 L242,310.82 L239.79,308.95 L237.59,307.93 L235.39,308.95 L232,310.82 L227.76,310.65 L223.18,311.84 L219.79,314.22 L217.93,316.43 L216.23,318.81 L212.67,322.38 L208.1,324.76 L203.52,326.97 L199.45,328.67 L199.96,326.97 L202.33,323.57 L205.89,320 L209.28,316.43 L212.67,313.03 L214.54,308.27 L213.86,304.87 L211.66,300.11 L208.1,294.33 L207.59,291.95 L207.76,291.1 L214.71,292.29 L222.5,291.95 L217.08,290.59 L216.74,289.4 L216.4,286.51 L216.06,283.96 L215.72,280.22 L215.38,276.82 L216.74,276.31 L218.94,274.44 L220.64,272.23 L223.35,271.21 L227.93,271.21 L231.15,270.02 L232.33,267.3 L234.2,264.58Z" class="m"/>
<path d="M293.43,277.7 L291.23,277.59 L289.09,276.98 L286.93,276.5 L284.69,276.72 M294.2,272.4 L292.45,271.1 L290.44,270.14 L289.19,268.18 L286.96,267.52 L285.49,265.84 M284.69,276.72 L284.32,274.65 L283.69,272.65 L282.58,270.79 L282.69,268.58 L281.69,266.69 M285.49,265.84 L281.69,266.69 M288.58,287.05 L286.57,285.93 L285.15,284.12 L283.13,283.01 L281.73,281.17 M281.73,281.17 L282.95,278.77 L284.69,276.72 M294.73,256.57 L293.22,258.15 L291.53,259.55 L290.01,261.11 L288.48,262.66 L287.38,264.65 L285.49,265.84 M213.4,311.19 L214.85,313.09 L216.43,314.9 L217.45,317.1 M281.26,292.48 L280.01,290.77 L278.11,289.62 L277.09,287.7 M281.73,281.17 L281.07,281.33 M277.09,287.7 L278.02,285.33 L279.99,283.61 L281.07,281.33 M241.8,251 L242.75,252.9 L244.3,254.34 L245.63,255.94 L246.41,257.96 L247.75,259.56 L249.28,261.01 M236.15,261.89 L237.91,264.13 L240.05,266.02 M240.05,266.02 L241.72,264.69 L243.57,263.69 L245.44,262.73 L247.55,262.22 L249.28,261.01 M268.17,269.28 L271.03,269.09 L273.85,269.58 M268.17,269.28 L266.17,267.92 L264.4,266.25 M264.4,266.25 L263.82,263.93 L263.43,261.55 L263.25,259.14 L262.48,256.85 L261.81,254.54 M279.71,266.12 L277.94,267.58 L275.63,268.13 L273.85,269.58 M279.71,266.12 L279.28,263.97 L278.44,261.93 L278.34,259.69 L278.01,257.52 L277.06,255.5 M262.93,250.73 L261.81,254.54 M281.69,266.69 L279.71,266.12 M281.07,281.33 L279,280.37 L277.18,279.02 L275.33,277.73 M275.33,277.73 L275.09,275.67 L274.89,273.6 L274.63,271.54 L273.85,269.58 M249.28,261.01 L250.65,261.42 M250.65,261.42 L252.6,260.42 L254.42,259.21 L256.19,257.91 L258.08,256.83 L259.91,255.63 L261.81,254.54 M267.27,283.45 L266.7,285.48 L266.31,287.53 L266.3,289.62 L266.22,291.7 L265.62,293.72 L265.59,295.81 L265.67,297.91 M267.27,283.45 L269.62,283.45 M269.62,283.45 L271.63,284.71 L273.28,286.44 L275.27,287.7 M275.27,287.7 L274.38,289.7 L273.21,291.51 L271.92,293.24 L270.1,294.62 L268.92,296.43 L268.11,298.48 M266.5,299.09 L265.67,297.91 M275.33,277.73 L273.24,279.45 L271.48,281.49 L269.62,283.45 M263.89,281.1 L265.81,281.94 L267.27,283.45 M263.89,281.1 L264.93,279.25 L265.25,277.14 L266.15,275.23 L266.92,273.28 L267.28,271.19 L268.17,269.28 M277.09,287.7 L275.27,287.7 M253.73,307.14 L252.82,304.85 L250.74,303.33 L249.94,300.96 L248.25,299.18 L247.04,297.08 M265.67,297.91 L263.98,296.68 L262.15,295.69 L260.12,295.01 L258.34,293.92 L257.03,292.09 L255.04,291.35 M247.04,297.08 L249.23,295.91 L251.1,294.3 L252.81,292.45 L255.04,291.35 M216.38,286.36 L218.72,286.73 L220.95,287.5 M213.99,305.51 L216.1,304.59 L218.29,303.87 L220.2,302.5 L222.34,301.64 L224.5,300.83 M224.5,300.83 L223.91,298.61 L223.28,296.41 L223.09,294.09 L222.14,291.97 M222.11,291.85 L221.31,289.74 L220.95,287.5 M258.01,281.8 L257.06,283.88 L255.37,285.41 M258.01,281.8 L256.87,279.99 L256.29,277.92 L255.02,276.18 L254.28,274.18 L253.58,272.17 M255.37,285.41 L253.23,284.93 L251.31,283.7 L249.22,283.05 L246.88,283.21 L244.88,282.25 M244.88,282.25 L246.02,280.05 L246.66,277.68 L247.29,275.31 L247.97,272.95 M247.97,272.95 L250.22,272.27 L252.52,271.73 M253.58,272.17 L252.52,271.73 M263.89,281.1 L260.98,281.69 L258.01,281.8 M255.04,291.35 L255.32,288.38 L255.37,285.41 M264.4,266.25 L262.53,267.12 L260.84,268.31 L258.94,269.12 L257.25,270.31 L255.46,271.33 L253.58,272.17 M240.83,269.97 L243.33,270.69 L245.72,271.64 L247.97,272.95 M240.05,266.02 L240.83,269.97 M250.65,261.42 L251.14,263.46 L251.47,265.53 L251.79,267.6 L251.65,269.76 L252.52,271.73 M243.28,296.73 L241.45,294.45 L238.97,292.92 M243.28,296.73 L242.26,298.59 L241.79,300.66 L240.63,302.45 L240.35,304.59 L239.13,306.37 L238.77,308.48 M238.97,292.92 L237.16,294.37 L235.2,295.56 L232.89,296.15 L230.92,297.31 L229.07,298.7 L227.23,300.09 L225.12,301.03 M232.07,310.78 L230.49,308.96 L229.69,306.59 L227.5,305.21 L226.32,303.11 L225.12,301.03 M247.04,297.08 L243.28,296.73 M224.5,300.83 L225.12,301.03 M238.52,285.2 L237.75,282.82 L236.84,280.48 L236.84,277.88 L235.79,275.59 M238.52,285.2 L237.66,287.13 M237.66,287.13 L235.49,286.69 L233.25,286.78 L231.08,286.36 L228.89,286.09 L226.74,285.49 L224.55,285.25 M224.55,285.25 L224.79,283.15 L224.99,281.05 L225.31,278.96 L226.15,276.96 L226.09,274.81 L226.62,272.76 M226.62,272.76 L228.93,273.41 L231.35,273.7 L233.41,275.18 L235.79,275.59 M244.88,282.25 L242.95,283.64 L240.65,284.24 L238.52,285.2 M240.83,269.97 L238.81,271.53 L237.48,273.73 L235.79,275.59 M238.97,292.92 L237.89,290.12 L237.66,287.13 M220.95,287.5 L222.8,286.45 L224.55,285.25 M225.56,271.21 L226.62,272.76" class="d"/>
<text x="250.13" y="255.96" class="t" text-anchor="middle" style="font-size:2.75px" textLength="7.29" lengthAdjust="spacingAndGlyphs">Sundargarh</text>
<text x="243.35" y="261.06" class="t" text-anchor="middle" style="font-size:2.75px" textLength="7.29" lengthAdjust="spacingAndGlyphs">Jharsuguda</text>
<text x="246.74" y="267.35" class="t" text-anchor="middle" style="font-size:2.75px" textLength="6.56" lengthAdjust="spacingAndGlyphs">Sambalpur</text>
<text x="256.07" y="265.65" class="t" text-anchor="middle" style="font-size:2.75px" textLength="5.1" lengthAdjust="spacingAndGlyphs">Deogarh</text>
<text x="271.32" y="262.25" class="t" text-anchor="middle" style="font-size:2.75px" textLength="5.83" lengthAdjust="spacingAndGlyphs">Keonjhar</text>
<text x="284.88" y="258.85" class="t" text-anchor="middle" style="font-size:2.75px" textLength="7.29" lengthAdjust="spacingAndGlyphs">Mayurbhanj</text>
<text x="293.36" y="267.35" class="t" text-anchor="middle" style="font-size:2.75px" textLength="5.83" lengthAdjust="spacingAndGlyphs">Balasore</text>
<text x="288.27" y="274.15" class="t" text-anchor="middle" style="font-size:2.75px" textLength="5.1" lengthAdjust="spacingAndGlyphs">Bhadrak</text>
<text x="279.79" y="276.7" class="t" text-anchor="middle" style="font-size:2.75px" textLength="4.37" lengthAdjust="spacingAndGlyphs">Jajpur</text>
<text x="287.42" y="281.8" class="t" text-anchor="middle" style="font-size:2.75px" textLength="7.29" lengthAdjust="spacingAndGlyphs">Kendrapara</text>
<text x="282.34" y="287.75" class="t" text-anchor="middle" style="font-size:2.75px" textLength="9.48" lengthAdjust="spacingAndGlyphs">Jagatsinghpur</text>
<text x="275.56" y="283.5" class="t" text-anchor="middle" style="font-size:2.75px" textLength="5.1" lengthAdjust="spacingAndGlyphs">Cuttack</text>
<text x="270.47" y="278.4" class="t" text-anchor="middle" style="font-size:2.75px" textLength="6.56" lengthAdjust="spacingAndGlyphs">Dhenkanal</text>
<text x="261.15" y="275" class="t" text-anchor="middle" style="font-size:2.75px" textLength="3.64" lengthAdjust="spacingAndGlyphs">Angul</text>
<text x="270.47" y="290.3" class="t" text-anchor="middle" style="font-size:2.75px" textLength="5.1" lengthAdjust="spacingAndGlyphs">Khordha</text>
<text x="275.56" y="293.7" class="t" text-anchor="middle" style="font-size:2.75px" textLength="2.92" lengthAdjust="spacingAndGlyphs">Puri</text>
<text x="262.84" y="289.45" class="t" text-anchor="middle" style="font-size:2.75px" textLength="5.83" lengthAdjust="spacingAndGlyphs">Nayagarh</text>
<text x="256.07" y="300.5" class="t" text-anchor="middle" style="font-size:2.75px" textLength="4.37" lengthAdjust="spacingAndGlyphs">Ganjam</text>
<text x="245.89" y="307.3" class="t" text-anchor="middle" style="font-size:2.75px" textLength="5.83" lengthAdjust="spacingAndGlyphs">Gajapati</text>
<text x="247.59" y="288.6" class="t" text-anchor="middle" style="font-size:2.75px" textLength="6.56" lengthAdjust="spacingAndGlyphs">Kandhamal</text>
<text x="250.13" y="280.1" class="t" text-anchor="middle" style="font-size:2.75px" textLength="3.64" lengthAdjust="spacingAndGlyphs">Boudh</text>
<text x="242.51" y="277.55" class="t" text-anchor="middle" style="font-size:2.75px" textLength="5.1" lengthAdjust="spacingAndGlyphs">Sonepur</text>
<text x="234.03" y="269.9" class="t" text-anchor="middle" style="font-size:2.75px" textLength="5.1" lengthAdjust="spacingAndGlyphs">Bargarh</text>
<text x="230.64" y="280.95" class="t" text-anchor="middle" style="font-size:2.75px" textLength="5.83" lengthAdjust="spacingAndGlyphs">Bolangir</text>
<text x="220.47" y="279.25" class="t" text-anchor="middle" style="font-size:2.75px" textLength="5.1" lengthAdjust="spacingAndGlyphs">Nuapada</text>
<text x="228.94" y="292.85" class="t" text-anchor="middle" style="font-size:2.75px" textLength="6.56" lengthAdjust="spacingAndGlyphs">Kalahandi</text>
<text x="234.88" y="303.05" class="t" text-anchor="middle" style="font-size:2.75px" textLength="5.83" lengthAdjust="spacingAndGlyphs">Rayagada</text>
<text x="216.23" y="296.25" class="t" text-anchor="middle" style="font-size:2.75px" textLength="8.02" lengthAdjust="spacingAndGlyphs">Nabarangpur</text>
<text x="223.01" y="311.55" class="t" text-anchor="middle" style="font-size:2.75px" textLength="5.1" lengthAdjust="spacingAndGlyphs">Koraput</text>
<text x="209.45" y="320.9" class="t" text-anchor="middle" style="font-size:2.75px" textLength="7.29" lengthAdjust="spacingAndGlyphs">Malkangiri</text>
<line x1="210.3" y1="226.3" x2="210.3" y2="329.4" class="g"/>
<line x1="227.25" y1="226.3" x2="227.25" y2="329.4" class="g"/>
<line x1="244.2" y1="226.3" x2="244.2" y2="329.4" class="g"/>
<line x1="261.15" y1="226.3" x2="261.15" y2="329.4" class="g"/>
<line x1="278.1" y1="226.3" x2="278.1" y2="329.4" class="g"/>
<line x1="295.05" y1="226.3" x2="295.05" y2="329.4" class="g"/>
<line x1="312" y1="226.3" x2="312" y2="329.4" class="g"/>
<line x1="328.95" y1="226.3" x2="328.95" y2="329.4" class="g"/>
<line x1="345.9" y1="226.3" x2="345.9" y2="329.4" class="g"/>
<line x1="199.5" y1="325.1" x2="346.5" y2="325.1" class="g"/>
<line x1="199.5" y1="308.1" x2="346.5" y2="308.1" class="g"/>
<line x1="199.5" y1="291.1" x2="346.5" y2="291.1" class="g"/>
<line x1="199.5" y1="274.1" x2="346.5" y2="274.1" class="g"/>
<line x1="199.5" y1="257.1" x2="346.5" y2="257.1" class="g"/>
<line x1="199.5" y1="240.1" x2="346.5" y2="240.1" class="g"/>
<circle cx="285" cy="282.6" r="3.4" fill="#9a9aa6" opacity="0.8"/><circle cx="285" cy="282.6" r="2.2" fill="#b8b8c4"/><circle cx="284.6" cy="282.6" r="1.3" fill="#e8283a"/>
<text x="210.3" y="333.4" class="a" text-anchor="middle" style="font-size:2.75px" textLength="5.6" lengthAdjust="spacingAndGlyphs">82°0'E</text>
<text x="227.25" y="333.4" class="a" text-anchor="middle" style="font-size:2.75px" textLength="5.6" lengthAdjust="spacingAndGlyphs">83°0'E</text>
<text x="244.2" y="333.4" class="a" text-anchor="middle" style="font-size:2.75px" textLength="5.6" lengthAdjust="spacingAndGlyphs">84°0'E</text>
<text x="261.15" y="333.4" class="a" text-anchor="middle" style="font-size:2.75px" textLength="5.6" lengthAdjust="spacingAndGlyphs">85°0'E</text>
<text x="278.1" y="333.4" class="a" text-anchor="middle" style="font-size:2.75px" textLength="5.6" lengthAdjust="spacingAndGlyphs">86°0'E</text>
<text x="295.05" y="333.4" class="a" text-anchor="middle" style="font-size:2.75px" textLength="5.6" lengthAdjust="spacingAndGlyphs">87°0'E</text>
<text x="312" y="333.4" class="a" text-anchor="middle" style="font-size:2.75px" textLength="5.6" lengthAdjust="spacingAndGlyphs">88°0'E</text>
<text x="328.95" y="333.4" class="a" text-anchor="middle" style="font-size:2.75px" textLength="5.6" lengthAdjust="spacingAndGlyphs">89°0'E</text>
<text x="345.9" y="333.4" class="a" text-anchor="middle" style="font-size:2.75px" textLength="5.6" lengthAdjust="spacingAndGlyphs">90°0'E</text>
<text x="197.9" y="325.1" class="a" text-anchor="middle" style="font-size:2.75px" textLength="5.4" lengthAdjust="spacingAndGlyphs" dy="0.95" transform="rotate(-90 197.9 325.1)">18°0'N</text>
<text x="197.9" y="308.1" class="a" text-anchor="middle" style="font-size:2.75px" textLength="5.4" lengthAdjust="spacingAndGlyphs" dy="0.95" transform="rotate(-90 197.9 308.1)">19°0'N</text>
<text x="197.9" y="291.1" class="a" text-anchor="middle" style="font-size:2.75px" textLength="5.4" lengthAdjust="spacingAndGlyphs" dy="0.95" transform="rotate(-90 197.9 291.1)">20°0'N</text>
<text x="197.9" y="274.1" class="a" text-anchor="middle" style="font-size:2.75px" textLength="5.4" lengthAdjust="spacingAndGlyphs" dy="0.95" transform="rotate(-90 197.9 274.1)">21°0'N</text>
<text x="197.9" y="257.1" class="a" text-anchor="middle" style="font-size:2.75px" textLength="5.4" lengthAdjust="spacingAndGlyphs" dy="0.95" transform="rotate(-90 197.9 257.1)">22°0'N</text>
<text x="197.9" y="240.1" class="a" text-anchor="middle" style="font-size:2.75px" textLength="5.4" lengthAdjust="spacingAndGlyphs" dy="0.95" transform="rotate(-90 197.9 240.1)">23°0'N</text>
<text x="324.5" y="238.9" class="n" text-anchor="middle">N</text>
<path d="M324.5,241.5 L322.95,246.7 L326.05,246.7Z" fill="#111"/>
<rect x="245.6" y="322.9" width="12.5" height="1.6" fill="#111"/>
<rect x="258.1" y="323.1" width="12.5" height="1.2" fill="#fff" stroke="#777" stroke-width="0.4"/>
<text x="245.6" y="322.2" class="s" text-anchor="middle" style="font-size:2.75px" textLength="0.9" lengthAdjust="spacingAndGlyphs">0</text>
<text x="258.1" y="322.2" class="s" text-anchor="middle" style="font-size:2.75px" textLength="1.9" lengthAdjust="spacingAndGlyphs">75</text>
<text x="269.1" y="322.2" class="s" style="font-size:2.75px" textLength="5.6" lengthAdjust="spacingAndGlyphs">150 km</text>
<line x1="305" y1="269.4" x2="338" y2="269.4" stroke="#ccc" stroke-width="0.4"/>
<text x="310" y="273.7" class="lt6" style="font-size:3px" textLength="21.5" lengthAdjust="spacingAndGlyphs">Suspected Cases</text>
<text x="310" y="278" class="ls" style="font-size:2.75px" textLength="8.14" lengthAdjust="spacingAndGlyphs">Rubella</text>
<circle cx="312" cy="280.5" r="1" fill="#e8283a"/>
<text x="315" y="281.4" class="ls" style="font-size:2.75px" textLength="6.14" lengthAdjust="spacingAndGlyphs">0 - 50</text>
<text x="310" y="285.9" class="ls" style="font-size:2.75px" textLength="7.6" lengthAdjust="spacingAndGlyphs">Odisha</text>
<rect x="310" y="287.2" width="3.2" height="1.6" fill="#e1e3f4" stroke="#aab" stroke-width="0.2"/>
<text x="314.5" y="288.9" class="ls" style="font-size:2.75px" textLength="7.6" lengthAdjust="spacingAndGlyphs">Odisha</text>
</g>
<g id="p7">
<path d="M47.15,374.15 L46.09,371.16 L47.33,368.87 L49.64,366.59 L52.12,364.13 L54.43,361.84 L56.73,361.84 L60.28,363.6 L62.59,363.25 L67.38,362.19 L73.94,362.19 L75.71,368.17 L78.73,368.87 L85.82,369.23 L89.73,368.52 L90.26,361.49 L92.92,362.02 L97.36,363.78 L104.45,367.64 L110.66,371.69 L114.74,374.15 L116.16,375.91 L113.32,378.89 L111.37,380.83 L109.42,382.76 L107.47,385.4 L106.23,387.86 L106.23,391.2 L106.76,393.66 L107.47,395.77 L105.52,398.23 L103.92,398.41 L102.15,400.34 L99.31,403.15 L96.47,405.09 L92.74,407.37 L89.02,409.66 L85.29,411.07 L81.39,412.47 L77.66,413.88 L74.83,414.93 L73.76,417.57 L70.21,419.33 L66.67,421.09 L63.12,422.84 L60.81,425.13 L58.33,426.36 L54.78,426.89 L52.47,425.83 L50.17,423.9 L47.86,422.84 L45.56,423.9 L42.01,425.83 L37.57,425.66 L32.78,426.89 L29.23,429.35 L27.28,431.63 L25.51,434.1 L21.78,437.79 L16.99,440.25 L12.2,442.53 L7.95,444.29 L8.48,442.53 L10.96,439.02 L14.69,435.33 L18.24,431.63 L21.78,428.12 L23.73,423.2 L23.03,419.68 L20.72,414.76 L16.99,408.78 L16.46,406.32 L16.64,405.44 L23.91,406.67 L32.07,406.32 L26.4,404.91 L26.04,403.68 L25.69,400.69 L25.33,398.06 L24.98,394.19 L24.62,390.67 L26.04,390.15 L28.35,388.21 L30.12,385.93 L32.96,384.87 L37.75,384.87 L41.12,383.64 L42.36,380.83 L44.31,378.02Z" class="m"/>
<path d="M106.31,391.58 L104,391.47 L101.76,390.84 L99.5,390.34 L97.16,390.57 M107.11,386.1 L105.28,384.76 L103.18,383.77 L101.87,381.73 L99.53,381.06 L97.99,379.32 M97.16,390.57 L96.77,388.43 L96.11,386.36 L94.95,384.44 L95.06,382.15 L94.02,380.2 M97.99,379.32 L94.02,380.2 M101.22,401.25 L99.13,400.09 L97.64,398.22 L95.52,397.07 L94.06,395.17 M94.06,395.17 L95.34,392.69 L97.16,390.57 M107.66,369.73 L106.08,371.36 L104.32,372.81 L102.73,374.43 L101.12,376.03 L99.97,378.09 L97.99,379.32 M22.54,426.21 L24.06,428.18 L25.72,430.05 L26.78,432.33 M93.57,406.87 L92.25,405.1 L90.27,403.91 L89.21,401.92 M94.06,395.17 L93.36,395.33 M89.21,401.92 L90.18,399.47 L92.24,397.69 L93.36,395.33 M52.27,363.98 L53.26,365.94 L54.88,367.43 L56.27,369.08 L57.09,371.17 L58.5,372.82 L60.1,374.32 M46.36,375.23 L48.2,377.55 L50.43,379.5 M50.43,379.5 L52.18,378.13 L54.12,377.1 L56.08,376.1 L58.29,375.58 L60.1,374.32 M79.87,382.88 L82.86,382.68 L85.81,383.19 M79.87,382.88 L77.77,381.47 L75.92,379.75 M75.92,379.75 L75.31,377.34 L74.91,374.89 L74.72,372.39 L73.91,370.02 L73.21,367.63 M91.95,379.61 L90.09,381.12 L87.68,381.69 L85.81,383.19 M91.95,379.61 L91.5,377.39 L90.62,375.27 L90.51,372.96 L90.16,370.71 L89.18,368.62 M74.38,363.69 L73.21,367.63 M94.02,380.2 L91.95,379.61 M93.36,395.33 L91.2,394.34 L89.3,392.95 L87.36,391.61 M87.36,391.61 L87.11,389.48 L86.9,387.34 L86.63,385.22 L85.81,383.19 M60.1,374.32 L61.53,374.74 M61.53,374.74 L63.57,373.71 L65.47,372.46 L67.33,371.12 L69.31,370 L71.23,368.76 L73.21,367.63 M78.93,397.53 L78.33,399.63 L77.92,401.74 L77.91,403.9 L77.83,406.06 L77.2,408.15 L77.16,410.31 L77.25,412.48 M78.93,397.53 L81.39,397.53 M81.39,397.53 L83.49,398.83 L85.21,400.62 L87.3,401.92 M87.3,401.92 L86.37,403.99 L85.14,405.86 L83.79,407.65 L81.89,409.08 L80.66,410.95 L79.8,413.07 M78.12,413.71 L77.25,412.48 M87.36,391.61 L85.17,393.39 L83.33,395.5 L81.39,397.53 M75.39,395.1 L77.4,395.97 L78.93,397.53 M75.39,395.1 L76.47,393.19 L76.81,391 L77.75,389.03 L78.55,387.02 L78.94,384.85 L79.87,382.88 M89.21,401.92 L87.3,401.92 M64.76,422.03 L63.8,419.66 L61.63,418.08 L60.78,415.63 L59.02,413.79 L57.76,411.62 M77.25,412.48 L75.49,411.21 L73.56,410.18 L71.44,409.48 L69.58,408.36 L68.2,406.47 L66.12,405.7 M57.76,411.62 L60.05,410.41 L62,408.75 L63.79,406.84 L66.12,405.7 M25.66,400.53 L28.11,400.92 L30.45,401.72 M23.16,420.34 L25.37,419.39 L27.67,418.65 L29.66,417.22 L31.9,416.34 L34.16,415.5 M34.16,415.5 L33.54,413.21 L32.89,410.93 L32.68,408.53 L31.69,406.34 M31.66,406.22 L30.82,404.03 L30.45,401.72 M69.23,395.82 L68.24,397.97 L66.47,399.55 M69.23,395.82 L68.04,393.95 L67.44,391.81 L66.11,390.01 L65.33,387.95 L64.6,385.87 M66.47,399.55 L64.23,399.05 L62.22,397.79 L60.03,397.11 L57.58,397.29 L55.49,396.29 M55.49,396.29 L56.68,394.01 L57.35,391.56 L58.01,389.11 L58.73,386.67 M58.73,386.67 L61.09,385.97 L63.48,385.41 M64.6,385.87 L63.48,385.41 M75.39,395.1 L72.34,395.71 L69.23,395.82 M66.12,405.7 L66.42,402.63 L66.47,399.55 M75.92,379.75 L73.97,380.64 L72.2,381.87 L70.21,382.71 L68.44,383.94 L66.57,384.99 L64.6,385.87 M51.26,383.58 L53.86,384.33 L56.37,385.32 L58.73,386.67 M50.43,379.5 L51.26,383.58 M61.53,374.74 L62.04,376.86 L62.39,379 L62.72,381.14 L62.57,383.37 L63.48,385.41 M53.82,411.27 L51.9,408.91 L49.31,407.32 M53.82,411.27 L52.75,413.19 L52.26,415.32 L51.04,417.18 L50.75,419.39 L49.48,421.23 L49.1,423.41 M49.31,407.32 L47.41,408.82 L45.36,410.06 L42.94,410.66 L40.88,411.87 L38.95,413.3 L37.01,414.74 L34.81,415.7 M42.08,425.79 L40.43,423.91 L39.59,421.46 L37.3,420.03 L36.07,417.86 L34.81,415.7 M57.76,411.62 L53.82,411.27 M34.16,415.5 L34.81,415.7 M48.84,399.33 L48.03,396.88 L47.07,394.46 L47.08,391.77 L45.97,389.4 M48.84,399.33 L47.93,401.33 M47.93,401.33 L45.66,400.88 L43.32,400.97 L41.05,400.54 L38.75,400.25 L36.51,399.64 L34.21,399.39 M34.21,399.39 L34.46,397.22 L34.68,395.04 L35.01,392.88 L35.88,390.82 L35.82,388.6 L36.39,386.48 M36.39,386.48 L38.8,387.15 L41.33,387.44 L43.48,388.98 L45.97,389.4 M55.49,396.29 L53.47,397.73 L51.07,398.34 L48.84,399.33 M51.26,383.58 L49.14,385.2 L47.75,387.48 L45.97,389.4 M49.31,407.32 L48.18,404.43 L47.93,401.33 M30.45,401.72 L32.38,400.63 L34.21,399.39 M35.27,384.87 L36.39,386.48" class="d"/>
<text x="60.99" y="369.07" class="t" text-anchor="middle" style="font-size:2.75px" textLength="7.63" lengthAdjust="spacingAndGlyphs">Sundargarh</text>
<text x="53.89" y="374.34" class="t" text-anchor="middle" style="font-size:2.75px" textLength="7.63" lengthAdjust="spacingAndGlyphs">Jharsuguda</text>
<text x="57.44" y="380.85" class="t" text-anchor="middle" style="font-size:2.75px" textLength="6.87" lengthAdjust="spacingAndGlyphs">Sambalpur</text>
<text x="67.2" y="379.09" class="t" text-anchor="middle" style="font-size:2.75px" textLength="5.34" lengthAdjust="spacingAndGlyphs">Deogarh</text>
<text x="83.16" y="375.57" class="t" text-anchor="middle" style="font-size:2.75px" textLength="6.1" lengthAdjust="spacingAndGlyphs">Keonjhar</text>
<text x="97.36" y="372.06" class="t" text-anchor="middle" style="font-size:2.75px" textLength="7.63" lengthAdjust="spacingAndGlyphs">Mayurbhanj</text>
<text x="106.23" y="380.85" class="t" text-anchor="middle" style="font-size:2.75px" textLength="6.1" lengthAdjust="spacingAndGlyphs">Balasore</text>
<text x="100.9" y="387.88" class="t" text-anchor="middle" style="font-size:2.75px" textLength="5.34" lengthAdjust="spacingAndGlyphs">Bhadrak</text>
<text x="92.03" y="390.52" class="t" text-anchor="middle" style="font-size:2.75px" textLength="4.58" lengthAdjust="spacingAndGlyphs">Jajpur</text>
<text x="100.02" y="395.79" class="t" text-anchor="middle" style="font-size:2.75px" textLength="7.63" lengthAdjust="spacingAndGlyphs">Kendrapara</text>
<text x="94.69" y="401.94" class="t" text-anchor="middle" style="font-size:2.75px" textLength="9.92" lengthAdjust="spacingAndGlyphs">Jagatsinghpur</text>
<text x="87.6" y="397.55" class="t" text-anchor="middle" style="font-size:2.75px" textLength="5.34" lengthAdjust="spacingAndGlyphs">Cuttack</text>
<text x="82.28" y="392.28" class="t" text-anchor="middle" style="font-size:2.75px" textLength="6.87" lengthAdjust="spacingAndGlyphs">Dhenkanal</text>
<text x="72.52" y="388.76" class="t" text-anchor="middle" style="font-size:2.75px" textLength="3.81" lengthAdjust="spacingAndGlyphs">Angul</text>
<text x="82.28" y="404.58" class="t" text-anchor="middle" style="font-size:2.75px" textLength="5.34" lengthAdjust="spacingAndGlyphs">Khordha</text>
<text x="87.6" y="408.1" class="t" text-anchor="middle" style="font-size:2.75px" textLength="3.05" lengthAdjust="spacingAndGlyphs">Puri</text>
<text x="74.29" y="403.7" class="t" text-anchor="middle" style="font-size:2.75px" textLength="6.1" lengthAdjust="spacingAndGlyphs">Nayagarh</text>
<text x="67.2" y="415.13" class="t" text-anchor="middle" style="font-size:2.75px" textLength="4.58" lengthAdjust="spacingAndGlyphs">Ganjam</text>
<text x="56.55" y="422.16" class="t" text-anchor="middle" style="font-size:2.75px" textLength="6.1" lengthAdjust="spacingAndGlyphs">Gajapati</text>
<text x="58.33" y="402.82" class="t" text-anchor="middle" style="font-size:2.75px" textLength="6.87" lengthAdjust="spacingAndGlyphs">Kandhamal</text>
<text x="60.99" y="394.03" class="t" text-anchor="middle" style="font-size:2.75px" textLength="3.81" lengthAdjust="spacingAndGlyphs">Boudh</text>
<text x="53.01" y="391.4" class="t" text-anchor="middle" style="font-size:2.75px" textLength="5.34" lengthAdjust="spacingAndGlyphs">Sonepur</text>
<text x="44.14" y="383.49" class="t" text-anchor="middle" style="font-size:2.75px" textLength="5.34" lengthAdjust="spacingAndGlyphs">Bargarh</text>
<text x="40.59" y="394.91" class="t" text-anchor="middle" style="font-size:2.75px" textLength="6.1" lengthAdjust="spacingAndGlyphs">Bolangir</text>
<text x="29.94" y="393.15" class="t" text-anchor="middle" style="font-size:2.75px" textLength="5.34" lengthAdjust="spacingAndGlyphs">Nuapada</text>
<text x="38.81" y="407.22" class="t" text-anchor="middle" style="font-size:2.75px" textLength="6.87" lengthAdjust="spacingAndGlyphs">Kalahandi</text>
<text x="45.02" y="417.77" class="t" text-anchor="middle" style="font-size:2.75px" textLength="6.1" lengthAdjust="spacingAndGlyphs">Rayagada</text>
<text x="25.51" y="410.73" class="t" text-anchor="middle" style="font-size:2.75px" textLength="8.39" lengthAdjust="spacingAndGlyphs">Nabarangpur</text>
<text x="32.61" y="426.56" class="t" text-anchor="middle" style="font-size:2.75px" textLength="5.34" lengthAdjust="spacingAndGlyphs">Koraput</text>
<text x="18.41" y="436.23" class="t" text-anchor="middle" style="font-size:2.75px" textLength="7.63" lengthAdjust="spacingAndGlyphs">Malkangiri</text>
<line x1="19.3" y1="337.2" x2="19.3" y2="451.5" class="g"/>
<line x1="37.04" y1="337.2" x2="37.04" y2="451.5" class="g"/>
<line x1="54.78" y1="337.2" x2="54.78" y2="451.5" class="g"/>
<line x1="72.52" y1="337.2" x2="72.52" y2="451.5" class="g"/>
<line x1="90.26" y1="337.2" x2="90.26" y2="451.5" class="g"/>
<line x1="108" y1="337.2" x2="108" y2="451.5" class="g"/>
<line x1="125.74" y1="337.2" x2="125.74" y2="451.5" class="g"/>
<line x1="143.48" y1="337.2" x2="143.48" y2="451.5" class="g"/>
<line x1="161.22" y1="337.2" x2="161.22" y2="451.5" class="g"/>
<line x1="7.6" y1="441.2" x2="162.3" y2="441.2" class="g"/>
<line x1="7.6" y1="423.62" x2="162.3" y2="423.62" class="g"/>
<line x1="7.6" y1="406.04" x2="162.3" y2="406.04" class="g"/>
<line x1="7.6" y1="388.46" x2="162.3" y2="388.46" class="g"/>
<line x1="7.6" y1="370.88" x2="162.3" y2="370.88" class="g"/>
<line x1="7.6" y1="353.3" x2="162.3" y2="353.3" class="g"/>
<circle cx="33.7" cy="416.4" r="2.5" fill="#22d4d8" fill-opacity="0.85" stroke="#14a8b0" stroke-width="0.3"/>
<circle cx="54.3" cy="379.9" r="1.6" fill="#22d4d8" fill-opacity="0.85" stroke="#14a8b0" stroke-width="0.3"/>
<circle cx="40.6" cy="406.8" r="1.6" fill="#22d4d8" fill-opacity="0.85" stroke="#3a4650" stroke-width="0.6"/>
<circle cx="75.1" cy="403.4" r="1.5" fill="#22d4d8" fill-opacity="0.85" stroke="#14a8b0" stroke-width="0.3"/>
<circle cx="87.7" cy="397.7" r="1.3" fill="#22d4d8" fill-opacity="0.85" stroke="#3a4650" stroke-width="0.6"/>
<circle cx="87.1" cy="400.6" r="1.3" fill="#22d4d8" fill-opacity="0.85" stroke="#3a4650" stroke-width="0.6"/>
<circle cx="93.4" cy="401.1" r="1.3" fill="#22d4d8" fill-opacity="0.85" stroke="#3a4650" stroke-width="0.6"/>
<circle cx="42.9" cy="403.4" r="1.3" fill="#22d4d8" fill-opacity="0.85" stroke="#3a4650" stroke-width="0.6"/>
<circle cx="48.6" cy="382.1" r="1.2" fill="#22d4d8" fill-opacity="0.85" stroke="#14a8b0" stroke-width="0.3"/>
<circle cx="76.9" cy="389.1" r="1.2" fill="#22d4d8" fill-opacity="0.85" stroke="#14a8b0" stroke-width="0.3"/>
<circle cx="88.9" cy="403.4" r="1.2" fill="#22d4d8" fill-opacity="0.85" stroke="#3a4650" stroke-width="0.6"/>
<circle cx="84.3" cy="402.9" r="1.1" fill="#22d4d8" fill-opacity="0.85" stroke="#3a4650" stroke-width="0.6"/>
<circle cx="46.3" cy="393.6" r="1" fill="#22d4d8" fill-opacity="0.85" stroke="#3a4650" stroke-width="0.6"/>
<circle cx="89.4" cy="397.1" r="1" fill="#22d4d8" fill-opacity="0.85" stroke="#3a4650" stroke-width="0.6"/>
<circle cx="97.4" cy="385.1" r="1" fill="#22d4d8" fill-opacity="0.85" stroke="#14a8b0" stroke-width="0.3"/>
<circle cx="37.1" cy="409.6" r="1" fill="#22d4d8" fill-opacity="0.85" stroke="#14a8b0" stroke-width="0.3"/>
<circle cx="103.1" cy="371.7" r="1" fill="#22d4d8" fill-opacity="0.85" stroke="#14a8b0" stroke-width="0.3"/>
<circle cx="41.7" cy="394.3" r="0.9" fill="#22d4d8" fill-opacity="0.85" stroke="#14a8b0" stroke-width="0.3"/>
<circle cx="103.7" cy="385.7" r="0.8" fill="#22d4d8" fill-opacity="0.85" stroke="#14a8b0" stroke-width="0.3"/>
<circle cx="50.9" cy="393.6" r="0.6" fill="#22d4d8" fill-opacity="0.85" stroke="#14a8b0" stroke-width="0.3"/>
<circle cx="98" cy="397.1" r="0.6" fill="#22d4d8" fill-opacity="0.85" stroke="#14a8b0" stroke-width="0.3"/>
<circle cx="79.7" cy="407.4" r="0.6" fill="#22d4d8" fill-opacity="0.85" stroke="#14a8b0" stroke-width="0.3"/>
<circle cx="32.6" cy="413" r="0.6" fill="#22d4d8" fill-opacity="0.85" stroke="#14a8b0" stroke-width="0.3"/>
<circle cx="42.9" cy="382.1" r="0.5" fill="#22d4d8" fill-opacity="0.85" stroke="#14a8b0" stroke-width="0.3"/>
<circle cx="47.4" cy="389" r="0.5" fill="#22d4d8" fill-opacity="0.85" stroke="#14a8b0" stroke-width="0.3"/>
<circle cx="94" cy="385.1" r="0.5" fill="#22d4d8" fill-opacity="0.85" stroke="#14a8b0" stroke-width="0.3"/>
<circle cx="87.1" cy="409.1" r="0.5" fill="#22d4d8" fill-opacity="0.85" stroke="#14a8b0" stroke-width="0.3"/>
<circle cx="36" cy="398.8" r="0.5" fill="#22d4d8" fill-opacity="0.85" stroke="#14a8b0" stroke-width="0.3"/>
<circle cx="61.1" cy="403.9" r="0.5" fill="#22d4d8" fill-opacity="0.85" stroke="#14a8b0" stroke-width="0.3"/>
<circle cx="69.1" cy="411.9" r="0.5" fill="#22d4d8" fill-opacity="0.85" stroke="#14a8b0" stroke-width="0.3"/>
<circle cx="95.4" cy="385.6" r="0.5" fill="#22d4d8" fill-opacity="0.85" stroke="#14a8b0" stroke-width="0.3"/>
<circle cx="97.7" cy="387.9" r="0.5" fill="#22d4d8" fill-opacity="0.85" stroke="#14a8b0" stroke-width="0.3"/>
<circle cx="105.7" cy="389.4" r="0.5" fill="#22d4d8" fill-opacity="0.85" stroke="#14a8b0" stroke-width="0.3"/>
<line x1="7.6" y1="337.2" x2="7.6" y2="451.5" stroke="#ececec" stroke-width="0.6"/>
<line x1="3.4" y1="337.5" x2="162.3" y2="337.5" stroke="#bababa" stroke-width="1"/>
<line x1="3.4" y1="451.5" x2="162.3" y2="451.5" stroke="#bababa" stroke-width="1"/>
<line x1="3.5" y1="336.7" x2="3.5" y2="452" stroke="#bababa" stroke-width="1"/>
<line x1="162.5" y1="336.7" x2="162.5" y2="452" stroke="#bababa" stroke-width="1"/>
<text x="19.3" y="451.8" class="a" text-anchor="middle" style="font-size:2.75px" textLength="5.6" lengthAdjust="spacingAndGlyphs">82°0'E</text>
<text x="37.04" y="451.8" class="a" text-anchor="middle" style="font-size:2.75px" textLength="5.6" lengthAdjust="spacingAndGlyphs">83°0'E</text>
<text x="54.78" y="451.8" class="a" text-anchor="middle" style="font-size:2.75px" textLength="5.6" lengthAdjust="spacingAndGlyphs">84°0'E</text>
<text x="72.52" y="451.8" class="a" text-anchor="middle" style="font-size:2.75px" textLength="5.6" lengthAdjust="spacingAndGlyphs">85°0'E</text>
<text x="90.26" y="451.8" class="a" text-anchor="middle" style="font-size:2.75px" textLength="5.6" lengthAdjust="spacingAndGlyphs">86°0'E</text>
<text x="108" y="451.8" class="a" text-anchor="middle" style="font-size:2.75px" textLength="5.6" lengthAdjust="spacingAndGlyphs">87°0'E</text>
<text x="125.74" y="451.8" class="a" text-anchor="middle" style="font-size:2.75px" textLength="5.6" lengthAdjust="spacingAndGlyphs">88°0'E</text>
<text x="143.48" y="451.8" class="a" text-anchor="middle" style="font-size:2.75px" textLength="5.6" lengthAdjust="spacingAndGlyphs">89°0'E</text>
<text x="161.22" y="451.8" class="a" text-anchor="middle" style="font-size:2.75px" textLength="5.6" lengthAdjust="spacingAndGlyphs">90°0'E</text>
<text x="5.2" y="441.2" class="a" text-anchor="middle" style="font-size:2.75px" textLength="5.4" lengthAdjust="spacingAndGlyphs" dy="0.95" transform="rotate(-90 5.2 441.2)">18°0'N</text>
<text x="5.2" y="423.62" class="a" text-anchor="middle" style="font-size:2.75px" textLength="5.4" lengthAdjust="spacingAndGlyphs" dy="0.95" transform="rotate(-90 5.2 423.62)">19°0'N</text>
<text x="5.2" y="406.04" class="a" text-anchor="middle" style="font-size:2.75px" textLength="5.4" lengthAdjust="spacingAndGlyphs" dy="0.95" transform="rotate(-90 5.2 406.04)">20°0'N</text>
<text x="5.2" y="388.46" class="a" text-anchor="middle" style="font-size:2.75px" textLength="5.4" lengthAdjust="spacingAndGlyphs" dy="0.95" transform="rotate(-90 5.2 388.46)">21°0'N</text>
<text x="5.2" y="370.88" class="a" text-anchor="middle" style="font-size:2.75px" textLength="5.4" lengthAdjust="spacingAndGlyphs" dy="0.95" transform="rotate(-90 5.2 370.88)">22°0'N</text>
<text x="5.2" y="353.3" class="a" text-anchor="middle" style="font-size:2.75px" textLength="5.4" lengthAdjust="spacingAndGlyphs" dy="0.95" transform="rotate(-90 5.2 353.3)">23°0'N</text>
<text x="144.2" y="347.7" class="n" text-anchor="middle">N</text>
<path d="M144.2,350 L143.15,356.5 L145.25,356.5Z" fill="#111"/>
<rect x="51" y="443.5" width="12.4" height="1.7" fill="#111"/>
<rect x="63.4" y="443.7" width="11.6" height="1.3" fill="#fff" stroke="#777" stroke-width="0.4"/>
<text x="51" y="442.5" class="s" text-anchor="middle" style="font-size:2.75px" textLength="0.9" lengthAdjust="spacingAndGlyphs">0</text>
<text x="63.4" y="442.5" class="s" text-anchor="middle" style="font-size:2.75px" textLength="1.9" lengthAdjust="spacingAndGlyphs">75</text>
<text x="73.5" y="442.5" class="s" style="font-size:2.75px" textLength="5.6" lengthAdjust="spacingAndGlyphs">150 km</text>
<rect x="130" y="375.1" width="25.3" height="33.5" fill="#fff" stroke="#a8a8a8" stroke-width="0.7"/>
<text x="131.1" y="379.8" class="lt" style="font-size:3px" textLength="23.1" lengthAdjust="spacingAndGlyphs">Suspected Cases</text>
<text x="131.1" y="383.95" class="ls" style="font-size:2.75px" textLength="16.5" lengthAdjust="spacingAndGlyphs">Viral Hepatitis</text>
<circle cx="132.7" cy="386.3" r="0.5" fill="#22d4d8" stroke="#14a8b0" stroke-width="0.3"/>
<text x="136.5" y="387.2" class="ls" style="font-size:2.75px" textLength="4.24" lengthAdjust="spacingAndGlyphs">&lt;10</text>
<circle cx="132.7" cy="389.1" r="0.9" fill="#22d4d8" stroke="#14a8b0" stroke-width="0.3"/>
<text x="136.5" y="390" class="ls" style="font-size:2.75px" textLength="7.78" lengthAdjust="spacingAndGlyphs">10 - 50</text>
<circle cx="132.7" cy="392.7" r="1.5" fill="#22d4d8" stroke="#14a8b0" stroke-width="0.3"/>
<text x="136.5" y="393.6" class="ls" style="font-size:2.75px" textLength="9.17" lengthAdjust="spacingAndGlyphs">50 - 100</text>
<circle cx="132.7" cy="397.6" r="2.3" fill="#22d4d8" stroke="#14a8b0" stroke-width="0.3"/>
<text x="136.5" y="398.5" class="ls" style="font-size:2.75px" textLength="5.63" lengthAdjust="spacingAndGlyphs">&gt;100</text>
<text x="131.1" y="403.95" class="ls" style="font-size:2.75px" textLength="7.92" lengthAdjust="spacingAndGlyphs">Odisha</text>
<rect x="131.1" y="405.5" width="3.2" height="1.8" fill="#e1e3f4" stroke="#aab" stroke-width="0.2"/>
<text x="135.3" y="407.3" class="ls" style="font-size:2.75px" textLength="7.92" lengthAdjust="spacingAndGlyphs">Odisha</text>
</g>
</svg></body></html>
